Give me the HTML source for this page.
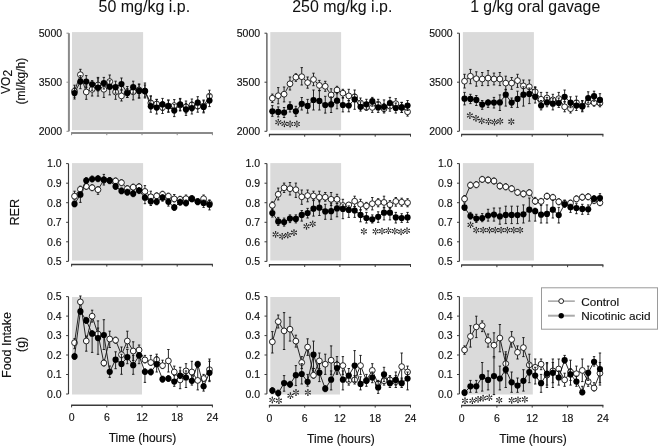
<!DOCTYPE html>
<html><head><meta charset="utf-8"><style>
html,body{margin:0;padding:0;background:#fff;}
svg{display:block;will-change:transform;}
text{font-family:"Liberation Sans",sans-serif;fill:#111;stroke:#111;stroke-width:0.15px;}
.tk{font-size:10.5px;}
.ax{font-size:12px;}
.ti{font-size:16.4px;stroke-width:0.05px;}
.yl{font-size:11.2px;}
.yl2{font-size:12px;}
.lg{font-size:11.75px;}
</style></head><body>
<svg width="658" height="446" viewBox="0 0 658 446">
<rect x="72.0" y="32.1" width="71.1" height="98.1" fill="#dadada"/>
<line x1="68.9" y1="33.2" x2="68.9" y2="131.3" stroke="#8a8a8a" stroke-width="2.0"/>
<line x1="66.5" y1="33.2" x2="68.9" y2="33.2" stroke="#8a8a8a" stroke-width="1"/>
<text x="62.1" y="37.0" text-anchor="end" class="tk">5000</text>
<line x1="66.5" y1="82.2" x2="68.9" y2="82.2" stroke="#8a8a8a" stroke-width="1"/>
<text x="62.1" y="86.0" text-anchor="end" class="tk">3500</text>
<line x1="66.5" y1="131.3" x2="68.9" y2="131.3" stroke="#8a8a8a" stroke-width="1"/>
<text x="62.1" y="135.1" text-anchor="end" class="tk">2000</text>
<line x1="71.1" y1="133.0" x2="212.9" y2="133.0" stroke="#8a8a8a" stroke-width="2.0"/>
<line x1="71.6" y1="133.0" x2="71.6" y2="135.2" stroke="#8a8a8a" stroke-width="1"/>
<line x1="106.8" y1="133.0" x2="106.8" y2="135.2" stroke="#8a8a8a" stroke-width="1"/>
<line x1="142.0" y1="133.0" x2="142.0" y2="135.2" stroke="#8a8a8a" stroke-width="1"/>
<line x1="177.2" y1="133.0" x2="177.2" y2="135.2" stroke="#8a8a8a" stroke-width="1"/>
<line x1="212.4" y1="133.0" x2="212.4" y2="135.2" stroke="#8a8a8a" stroke-width="1"/>
<rect x="270.3" y="32.1" width="70.8" height="98.1" fill="#dadada"/>
<line x1="266.9" y1="33.2" x2="266.9" y2="131.3" stroke="#3a3a3a" stroke-width="1.15"/>
<line x1="264.5" y1="33.2" x2="266.9" y2="33.2" stroke="#3a3a3a" stroke-width="1"/>
<text x="260.1" y="37.0" text-anchor="end" class="tk">5000</text>
<line x1="264.5" y1="82.2" x2="266.9" y2="82.2" stroke="#3a3a3a" stroke-width="1"/>
<text x="260.1" y="86.0" text-anchor="end" class="tk">3500</text>
<line x1="264.5" y1="131.3" x2="266.9" y2="131.3" stroke="#3a3a3a" stroke-width="1"/>
<text x="260.1" y="135.1" text-anchor="end" class="tk">2000</text>
<line x1="268.9" y1="134.5" x2="411.0" y2="134.5" stroke="#3a3a3a" stroke-width="1.5"/>
<line x1="269.4" y1="134.5" x2="269.4" y2="136.7" stroke="#3a3a3a" stroke-width="1"/>
<line x1="304.7" y1="134.5" x2="304.7" y2="136.7" stroke="#3a3a3a" stroke-width="1"/>
<line x1="339.9" y1="134.5" x2="339.9" y2="136.7" stroke="#3a3a3a" stroke-width="1"/>
<line x1="375.2" y1="134.5" x2="375.2" y2="136.7" stroke="#3a3a3a" stroke-width="1"/>
<line x1="410.5" y1="134.5" x2="410.5" y2="136.7" stroke="#3a3a3a" stroke-width="1"/>
<rect x="462.9" y="32.1" width="71.0" height="98.1" fill="#dadada"/>
<line x1="459.4" y1="33.2" x2="459.4" y2="131.3" stroke="#3a3a3a" stroke-width="1.15"/>
<line x1="457.0" y1="33.2" x2="459.4" y2="33.2" stroke="#3a3a3a" stroke-width="1"/>
<text x="452.6" y="37.0" text-anchor="end" class="tk">5000</text>
<line x1="457.0" y1="82.2" x2="459.4" y2="82.2" stroke="#3a3a3a" stroke-width="1"/>
<text x="452.6" y="86.0" text-anchor="end" class="tk">3500</text>
<line x1="457.0" y1="131.3" x2="459.4" y2="131.3" stroke="#3a3a3a" stroke-width="1"/>
<text x="452.6" y="135.1" text-anchor="end" class="tk">2000</text>
<line x1="461.1" y1="134.5" x2="603.4" y2="134.5" stroke="#3a3a3a" stroke-width="1.5"/>
<line x1="461.6" y1="134.5" x2="461.6" y2="136.7" stroke="#3a3a3a" stroke-width="1"/>
<line x1="496.9" y1="134.5" x2="496.9" y2="136.7" stroke="#3a3a3a" stroke-width="1"/>
<line x1="532.2" y1="134.5" x2="532.2" y2="136.7" stroke="#3a3a3a" stroke-width="1"/>
<line x1="567.6" y1="134.5" x2="567.6" y2="136.7" stroke="#3a3a3a" stroke-width="1"/>
<line x1="602.9" y1="134.5" x2="602.9" y2="136.7" stroke="#3a3a3a" stroke-width="1"/>
<rect x="72.0" y="163.1" width="71.1" height="97.4" fill="#dadada"/>
<line x1="68.5" y1="163.6" x2="68.5" y2="261.4" stroke="#3a3a3a" stroke-width="1.15"/>
<line x1="66.1" y1="163.6" x2="68.5" y2="163.6" stroke="#3a3a3a" stroke-width="1"/>
<text x="61.7" y="167.4" text-anchor="end" class="tk">1.0</text>
<line x1="66.1" y1="183.2" x2="68.5" y2="183.2" stroke="#3a3a3a" stroke-width="1"/>
<text x="61.7" y="187.0" text-anchor="end" class="tk">0.9</text>
<line x1="66.1" y1="202.7" x2="68.5" y2="202.7" stroke="#3a3a3a" stroke-width="1"/>
<text x="61.7" y="206.5" text-anchor="end" class="tk">0.8</text>
<line x1="66.1" y1="222.3" x2="68.5" y2="222.3" stroke="#3a3a3a" stroke-width="1"/>
<text x="61.7" y="226.1" text-anchor="end" class="tk">0.7</text>
<line x1="66.1" y1="241.8" x2="68.5" y2="241.8" stroke="#3a3a3a" stroke-width="1"/>
<text x="61.7" y="245.6" text-anchor="end" class="tk">0.6</text>
<line x1="66.1" y1="261.4" x2="68.5" y2="261.4" stroke="#3a3a3a" stroke-width="1"/>
<text x="61.7" y="265.2" text-anchor="end" class="tk">0.5</text>
<line x1="71.1" y1="264.4" x2="212.9" y2="264.4" stroke="#3a3a3a" stroke-width="1.5"/>
<line x1="71.6" y1="264.4" x2="71.6" y2="266.59999999999997" stroke="#3a3a3a" stroke-width="1"/>
<line x1="106.8" y1="264.4" x2="106.8" y2="266.59999999999997" stroke="#3a3a3a" stroke-width="1"/>
<line x1="142.0" y1="264.4" x2="142.0" y2="266.59999999999997" stroke="#3a3a3a" stroke-width="1"/>
<line x1="177.2" y1="264.4" x2="177.2" y2="266.59999999999997" stroke="#3a3a3a" stroke-width="1"/>
<line x1="212.4" y1="264.4" x2="212.4" y2="266.59999999999997" stroke="#3a3a3a" stroke-width="1"/>
<rect x="270.3" y="163.1" width="70.8" height="97.4" fill="#dadada"/>
<line x1="266.9" y1="163.6" x2="266.9" y2="261.4" stroke="#3a3a3a" stroke-width="1.15"/>
<line x1="264.5" y1="163.6" x2="266.9" y2="163.6" stroke="#3a3a3a" stroke-width="1"/>
<text x="260.1" y="167.4" text-anchor="end" class="tk">1.0</text>
<line x1="264.5" y1="183.2" x2="266.9" y2="183.2" stroke="#3a3a3a" stroke-width="1"/>
<text x="260.1" y="187.0" text-anchor="end" class="tk">0.9</text>
<line x1="264.5" y1="202.7" x2="266.9" y2="202.7" stroke="#3a3a3a" stroke-width="1"/>
<text x="260.1" y="206.5" text-anchor="end" class="tk">0.8</text>
<line x1="264.5" y1="222.3" x2="266.9" y2="222.3" stroke="#3a3a3a" stroke-width="1"/>
<text x="260.1" y="226.1" text-anchor="end" class="tk">0.7</text>
<line x1="264.5" y1="241.8" x2="266.9" y2="241.8" stroke="#3a3a3a" stroke-width="1"/>
<text x="260.1" y="245.6" text-anchor="end" class="tk">0.6</text>
<line x1="264.5" y1="261.4" x2="266.9" y2="261.4" stroke="#3a3a3a" stroke-width="1"/>
<text x="260.1" y="265.2" text-anchor="end" class="tk">0.5</text>
<line x1="268.9" y1="264.8" x2="411.0" y2="264.8" stroke="#3a3a3a" stroke-width="1.5"/>
<line x1="269.4" y1="264.8" x2="269.4" y2="267.0" stroke="#3a3a3a" stroke-width="1"/>
<line x1="304.7" y1="264.8" x2="304.7" y2="267.0" stroke="#3a3a3a" stroke-width="1"/>
<line x1="339.9" y1="264.8" x2="339.9" y2="267.0" stroke="#3a3a3a" stroke-width="1"/>
<line x1="375.2" y1="264.8" x2="375.2" y2="267.0" stroke="#3a3a3a" stroke-width="1"/>
<line x1="410.5" y1="264.8" x2="410.5" y2="267.0" stroke="#3a3a3a" stroke-width="1"/>
<rect x="462.9" y="163.1" width="71.0" height="97.4" fill="#dadada"/>
<line x1="459.4" y1="163.6" x2="459.4" y2="261.4" stroke="#3a3a3a" stroke-width="1.15"/>
<line x1="457.0" y1="163.6" x2="459.4" y2="163.6" stroke="#3a3a3a" stroke-width="1"/>
<text x="452.6" y="167.4" text-anchor="end" class="tk">1.0</text>
<line x1="457.0" y1="183.2" x2="459.4" y2="183.2" stroke="#3a3a3a" stroke-width="1"/>
<text x="452.6" y="187.0" text-anchor="end" class="tk">0.9</text>
<line x1="457.0" y1="202.7" x2="459.4" y2="202.7" stroke="#3a3a3a" stroke-width="1"/>
<text x="452.6" y="206.5" text-anchor="end" class="tk">0.8</text>
<line x1="457.0" y1="222.3" x2="459.4" y2="222.3" stroke="#3a3a3a" stroke-width="1"/>
<text x="452.6" y="226.1" text-anchor="end" class="tk">0.7</text>
<line x1="457.0" y1="241.8" x2="459.4" y2="241.8" stroke="#3a3a3a" stroke-width="1"/>
<text x="452.6" y="245.6" text-anchor="end" class="tk">0.6</text>
<line x1="457.0" y1="261.4" x2="459.4" y2="261.4" stroke="#3a3a3a" stroke-width="1"/>
<text x="452.6" y="265.2" text-anchor="end" class="tk">0.5</text>
<line x1="461.1" y1="265.0" x2="603.4" y2="265.0" stroke="#3a3a3a" stroke-width="1.5"/>
<line x1="461.6" y1="265.0" x2="461.6" y2="267.2" stroke="#3a3a3a" stroke-width="1"/>
<line x1="496.9" y1="265.0" x2="496.9" y2="267.2" stroke="#3a3a3a" stroke-width="1"/>
<line x1="532.2" y1="265.0" x2="532.2" y2="267.2" stroke="#3a3a3a" stroke-width="1"/>
<line x1="567.6" y1="265.0" x2="567.6" y2="267.2" stroke="#3a3a3a" stroke-width="1"/>
<line x1="602.9" y1="265.0" x2="602.9" y2="267.2" stroke="#3a3a3a" stroke-width="1"/>
<rect x="72.0" y="297.0" width="70.0" height="97.5" fill="#dadada"/>
<line x1="68.5" y1="296.6" x2="68.5" y2="394.0" stroke="#3a3a3a" stroke-width="1.15"/>
<line x1="66.1" y1="296.6" x2="68.5" y2="296.6" stroke="#3a3a3a" stroke-width="1"/>
<text x="61.7" y="300.4" text-anchor="end" class="tk">0.5</text>
<line x1="66.1" y1="316.1" x2="68.5" y2="316.1" stroke="#3a3a3a" stroke-width="1"/>
<text x="61.7" y="319.9" text-anchor="end" class="tk">0.4</text>
<line x1="66.1" y1="335.6" x2="68.5" y2="335.6" stroke="#3a3a3a" stroke-width="1"/>
<text x="61.7" y="339.4" text-anchor="end" class="tk">0.3</text>
<line x1="66.1" y1="355.0" x2="68.5" y2="355.0" stroke="#3a3a3a" stroke-width="1"/>
<text x="61.7" y="358.8" text-anchor="end" class="tk">0.2</text>
<line x1="66.1" y1="374.5" x2="68.5" y2="374.5" stroke="#3a3a3a" stroke-width="1"/>
<text x="61.7" y="378.3" text-anchor="end" class="tk">0.1</text>
<line x1="66.1" y1="394.0" x2="68.5" y2="394.0" stroke="#3a3a3a" stroke-width="1"/>
<text x="61.7" y="397.8" text-anchor="end" class="tk">0.0</text>
<line x1="71.1" y1="405.2" x2="212.9" y2="405.2" stroke="#3a3a3a" stroke-width="1.5"/>
<line x1="71.6" y1="405.2" x2="71.6" y2="407.4" stroke="#3a3a3a" stroke-width="1"/>
<text x="71.6" y="421.4" text-anchor="middle" class="tk">0</text>
<line x1="106.8" y1="405.2" x2="106.8" y2="407.4" stroke="#3a3a3a" stroke-width="1"/>
<text x="106.8" y="421.4" text-anchor="middle" class="tk">6</text>
<line x1="142.0" y1="405.2" x2="142.0" y2="407.4" stroke="#3a3a3a" stroke-width="1"/>
<text x="142.0" y="421.4" text-anchor="middle" class="tk">12</text>
<line x1="177.2" y1="405.2" x2="177.2" y2="407.4" stroke="#3a3a3a" stroke-width="1"/>
<text x="177.2" y="421.4" text-anchor="middle" class="tk">18</text>
<line x1="212.4" y1="405.2" x2="212.4" y2="407.4" stroke="#3a3a3a" stroke-width="1"/>
<text x="212.4" y="421.4" text-anchor="middle" class="tk">24</text>
<text x="142.5" y="442.4" text-anchor="middle" class="ax">Time (hours)</text>
<rect x="270.3" y="297.0" width="69.7" height="97.5" fill="#dadada"/>
<line x1="266.9" y1="296.6" x2="266.9" y2="394.0" stroke="#3a3a3a" stroke-width="1.15"/>
<line x1="264.5" y1="296.6" x2="266.9" y2="296.6" stroke="#3a3a3a" stroke-width="1"/>
<text x="260.1" y="300.4" text-anchor="end" class="tk">0.5</text>
<line x1="264.5" y1="316.1" x2="266.9" y2="316.1" stroke="#3a3a3a" stroke-width="1"/>
<text x="260.1" y="319.9" text-anchor="end" class="tk">0.4</text>
<line x1="264.5" y1="335.6" x2="266.9" y2="335.6" stroke="#3a3a3a" stroke-width="1"/>
<text x="260.1" y="339.4" text-anchor="end" class="tk">0.3</text>
<line x1="264.5" y1="355.0" x2="266.9" y2="355.0" stroke="#3a3a3a" stroke-width="1"/>
<text x="260.1" y="358.8" text-anchor="end" class="tk">0.2</text>
<line x1="264.5" y1="374.5" x2="266.9" y2="374.5" stroke="#3a3a3a" stroke-width="1"/>
<text x="260.1" y="378.3" text-anchor="end" class="tk">0.1</text>
<line x1="264.5" y1="394.0" x2="266.9" y2="394.0" stroke="#3a3a3a" stroke-width="1"/>
<text x="260.1" y="397.8" text-anchor="end" class="tk">0.0</text>
<line x1="268.9" y1="405.4" x2="411.0" y2="405.4" stroke="#3a3a3a" stroke-width="1.5"/>
<line x1="269.4" y1="405.4" x2="269.4" y2="407.59999999999997" stroke="#3a3a3a" stroke-width="1"/>
<text x="269.4" y="421.6" text-anchor="middle" class="tk">0</text>
<line x1="304.7" y1="405.4" x2="304.7" y2="407.59999999999997" stroke="#3a3a3a" stroke-width="1"/>
<text x="304.7" y="421.6" text-anchor="middle" class="tk">6</text>
<line x1="339.9" y1="405.4" x2="339.9" y2="407.59999999999997" stroke="#3a3a3a" stroke-width="1"/>
<text x="339.9" y="421.6" text-anchor="middle" class="tk">12</text>
<line x1="375.2" y1="405.4" x2="375.2" y2="407.59999999999997" stroke="#3a3a3a" stroke-width="1"/>
<text x="375.2" y="421.6" text-anchor="middle" class="tk">18</text>
<line x1="410.5" y1="405.4" x2="410.5" y2="407.59999999999997" stroke="#3a3a3a" stroke-width="1"/>
<text x="410.5" y="421.6" text-anchor="middle" class="tk">24</text>
<text x="340.9" y="443.1" text-anchor="middle" class="ax">Time (hours)</text>
<rect x="462.9" y="297.0" width="69.9" height="97.5" fill="#dadada"/>
<line x1="459.4" y1="296.6" x2="459.4" y2="394.0" stroke="#3a3a3a" stroke-width="1.15"/>
<line x1="457.0" y1="296.6" x2="459.4" y2="296.6" stroke="#3a3a3a" stroke-width="1"/>
<text x="452.6" y="300.4" text-anchor="end" class="tk">0.5</text>
<line x1="457.0" y1="316.1" x2="459.4" y2="316.1" stroke="#3a3a3a" stroke-width="1"/>
<text x="452.6" y="319.9" text-anchor="end" class="tk">0.4</text>
<line x1="457.0" y1="335.6" x2="459.4" y2="335.6" stroke="#3a3a3a" stroke-width="1"/>
<text x="452.6" y="339.4" text-anchor="end" class="tk">0.3</text>
<line x1="457.0" y1="355.0" x2="459.4" y2="355.0" stroke="#3a3a3a" stroke-width="1"/>
<text x="452.6" y="358.8" text-anchor="end" class="tk">0.2</text>
<line x1="457.0" y1="374.5" x2="459.4" y2="374.5" stroke="#3a3a3a" stroke-width="1"/>
<text x="452.6" y="378.3" text-anchor="end" class="tk">0.1</text>
<line x1="457.0" y1="394.0" x2="459.4" y2="394.0" stroke="#3a3a3a" stroke-width="1"/>
<text x="452.6" y="397.8" text-anchor="end" class="tk">0.0</text>
<line x1="461.1" y1="405.4" x2="603.4" y2="405.4" stroke="#3a3a3a" stroke-width="1.5"/>
<line x1="461.6" y1="405.4" x2="461.6" y2="407.59999999999997" stroke="#3a3a3a" stroke-width="1"/>
<text x="461.6" y="421.6" text-anchor="middle" class="tk">0</text>
<line x1="496.9" y1="405.4" x2="496.9" y2="407.59999999999997" stroke="#3a3a3a" stroke-width="1"/>
<text x="496.9" y="421.6" text-anchor="middle" class="tk">6</text>
<line x1="532.2" y1="405.4" x2="532.2" y2="407.59999999999997" stroke="#3a3a3a" stroke-width="1"/>
<text x="532.2" y="421.6" text-anchor="middle" class="tk">12</text>
<line x1="567.6" y1="405.4" x2="567.6" y2="407.59999999999997" stroke="#3a3a3a" stroke-width="1"/>
<text x="567.6" y="421.6" text-anchor="middle" class="tk">18</text>
<line x1="602.9" y1="405.4" x2="602.9" y2="407.59999999999997" stroke="#3a3a3a" stroke-width="1"/>
<text x="602.9" y="421.6" text-anchor="middle" class="tk">24</text>
<text x="533.1" y="443.2" text-anchor="middle" class="ax">Time (hours)</text>
<text x="98.6" y="11.55" class="ti" textLength="91.5" lengthAdjust="spacingAndGlyphs">50 mg/kg i.p.</text>
<text x="292.2" y="11.55" class="ti" textLength="100.2" lengthAdjust="spacingAndGlyphs">250 mg/kg i.p.</text>
<text x="470.2" y="11.55" class="ti" textLength="130" lengthAdjust="spacingAndGlyphs">1 g/kg oral gavage</text>
<text transform="translate(9.5,81.9) rotate(-90)" text-anchor="middle" class="yl2">VO<tspan dy="2.2">2</tspan></text>
<text transform="translate(24.8,81.2) rotate(-90)" text-anchor="middle" class="yl2">(ml/kg/h)</text>
<text transform="translate(18.8,212.2) rotate(-90)" text-anchor="middle" class="yl2" style="font-size:12.7px">RER</text>
<text transform="translate(11.2,345) rotate(-90)" text-anchor="middle" class="yl2" style="font-size:12.5px">Food Intake</text>
<text transform="translate(25.3,344.4) rotate(-90)" text-anchor="middle" class="yl2" style="font-size:12.4px">(g)</text>
<rect x="541.5" y="287.8" width="116" height="41.4" fill="#fff" stroke="#9a9a9a" stroke-width="1"/>
<line x1="548" y1="301.1" x2="574.8" y2="301.1" stroke="#666" stroke-width="0.9"/>
<circle cx="561.2" cy="301.1" r="2.4" fill="#fff" stroke="#222" stroke-width="1"/>
<text x="581.3" y="305.6" class="lg">Control</text>
<line x1="548" y1="315.7" x2="574.8" y2="315.7" stroke="#aaa" stroke-width="2"/>
<circle cx="561.2" cy="315.7" r="2.7" fill="#000"/>
<text x="581.3" y="319.9" class="lg">Nicotinic acid</text>
<path d="M74.53 85.20V97.20M73.33 85.20h2.4M73.33 97.20h2.4M80.40 69.30V80.70M79.20 69.30h2.4M79.20 80.70h2.4M86.27 86.00V99.30M85.07 86.00h2.4M85.07 99.30h2.4M92.13 83.30V96.00M90.93 83.30h2.4M90.93 96.00h2.4M98.00 78.00V91.00M96.80 78.00h2.4M96.80 91.00h2.4M103.87 83.30V97.40M102.67 83.30h2.4M102.67 97.40h2.4M109.73 75.00V87.60M108.53 75.00h2.4M108.53 87.60h2.4M115.60 86.00V99.30M114.40 86.00h2.4M114.40 99.30h2.4M121.47 89.90V101.00M120.27 89.90h2.4M120.27 101.00h2.4M127.33 86.50V97.40M126.13 86.50h2.4M126.13 97.40h2.4M133.20 85.80V99.90M132.00 85.80h2.4M132.00 99.90h2.4M139.07 84.00V98.00M137.87 84.00h2.4M137.87 98.00h2.4M144.93 85.00V97.00M143.73 85.00h2.4M143.73 97.00h2.4M150.80 96.00V109.00M149.60 96.00h2.4M149.60 109.00h2.4M156.67 99.40V110.00M155.47 99.40h2.4M155.47 110.00h2.4M162.53 101.50V113.50M161.33 101.50h2.4M161.33 113.50h2.4M168.40 100.00V112.00M167.20 100.00h2.4M167.20 112.00h2.4M174.27 99.60V111.60M173.07 99.60h2.4M173.07 111.60h2.4M180.13 99.00V111.00M178.93 99.00h2.4M178.93 111.00h2.4M186.00 101.00V113.00M184.80 101.00h2.4M184.80 113.00h2.4M191.87 99.00V111.00M190.67 99.00h2.4M190.67 111.00h2.4M197.73 100.20V112.20M196.53 100.20h2.4M196.53 112.20h2.4M203.60 100.00V112.00M202.40 100.00h2.4M202.40 112.00h2.4M209.47 90.20V102.20M208.27 90.20h2.4M208.27 102.20h2.4" stroke="#111" stroke-width="0.9" fill="none"/>
<path d="M74.53 91.20L80.40 74.70L86.27 92.00L92.13 89.30L98.00 85.00L103.87 89.30L109.73 81.60L115.60 92.00L121.47 95.90L127.33 92.50L133.20 91.80L139.07 90.00L144.93 91.00L150.80 103.00L156.67 104.00L162.53 107.50L168.40 106.00L174.27 105.60L180.13 105.00L186.00 107.00L191.87 105.00L197.73 106.20L203.60 106.00L209.47 96.20" stroke="#111" stroke-width="0.9" fill="none"/>
<circle cx="74.53" cy="91.20" r="2.9" fill="#fff" stroke="#111" stroke-width="0.9"/>
<circle cx="80.40" cy="74.70" r="2.9" fill="#fff" stroke="#111" stroke-width="0.9"/>
<circle cx="86.27" cy="92.00" r="2.9" fill="#fff" stroke="#111" stroke-width="0.9"/>
<circle cx="92.13" cy="89.30" r="2.9" fill="#fff" stroke="#111" stroke-width="0.9"/>
<circle cx="98.00" cy="85.00" r="2.9" fill="#fff" stroke="#111" stroke-width="0.9"/>
<circle cx="103.87" cy="89.30" r="2.9" fill="#fff" stroke="#111" stroke-width="0.9"/>
<circle cx="109.73" cy="81.60" r="2.9" fill="#fff" stroke="#111" stroke-width="0.9"/>
<circle cx="115.60" cy="92.00" r="2.9" fill="#fff" stroke="#111" stroke-width="0.9"/>
<circle cx="121.47" cy="95.90" r="2.9" fill="#fff" stroke="#111" stroke-width="0.9"/>
<circle cx="127.33" cy="92.50" r="2.9" fill="#fff" stroke="#111" stroke-width="0.9"/>
<circle cx="133.20" cy="91.80" r="2.9" fill="#fff" stroke="#111" stroke-width="0.9"/>
<circle cx="139.07" cy="90.00" r="2.9" fill="#fff" stroke="#111" stroke-width="0.9"/>
<circle cx="144.93" cy="91.00" r="2.9" fill="#fff" stroke="#111" stroke-width="0.9"/>
<circle cx="150.80" cy="103.00" r="2.9" fill="#fff" stroke="#111" stroke-width="0.9"/>
<circle cx="156.67" cy="104.00" r="2.9" fill="#fff" stroke="#111" stroke-width="0.9"/>
<circle cx="162.53" cy="107.50" r="2.9" fill="#fff" stroke="#111" stroke-width="0.9"/>
<circle cx="168.40" cy="106.00" r="2.9" fill="#fff" stroke="#111" stroke-width="0.9"/>
<circle cx="174.27" cy="105.60" r="2.9" fill="#fff" stroke="#111" stroke-width="0.9"/>
<circle cx="180.13" cy="105.00" r="2.9" fill="#fff" stroke="#111" stroke-width="0.9"/>
<circle cx="186.00" cy="107.00" r="2.9" fill="#fff" stroke="#111" stroke-width="0.9"/>
<circle cx="191.87" cy="105.00" r="2.9" fill="#fff" stroke="#111" stroke-width="0.9"/>
<circle cx="197.73" cy="106.20" r="2.9" fill="#fff" stroke="#111" stroke-width="0.9"/>
<circle cx="203.60" cy="106.00" r="2.9" fill="#fff" stroke="#111" stroke-width="0.9"/>
<circle cx="209.47" cy="96.20" r="2.9" fill="#fff" stroke="#111" stroke-width="0.9"/>
<path d="M74.53 88.00V99.00M73.33 88.00h2.4M73.33 99.00h2.4M80.40 75.60V88.70M79.20 75.60h2.4M79.20 88.70h2.4M86.27 75.60V87.60M85.07 75.60h2.4M85.07 87.60h2.4M92.13 80.60V90.30M90.93 80.60h2.4M90.93 90.30h2.4M98.00 77.40V96.10M96.80 77.40h2.4M96.80 96.10h2.4M103.87 77.40V89.00M102.67 77.40h2.4M102.67 89.00h2.4M109.73 80.80V94.90M108.53 80.80h2.4M108.53 94.90h2.4M115.60 81.20V93.20M114.40 81.20h2.4M114.40 93.20h2.4M121.47 78.00V90.00M120.27 78.00h2.4M120.27 90.00h2.4M127.33 88.70V97.40M126.13 88.70h2.4M126.13 97.40h2.4M133.20 81.20V93.20M132.00 81.20h2.4M132.00 93.20h2.4M139.07 84.30V98.00M137.87 84.30h2.4M137.87 98.00h2.4M144.93 83.00V98.00M143.73 83.00h2.4M143.73 98.00h2.4M150.80 96.00V112.20M149.60 96.00h2.4M149.60 112.20h2.4M156.67 99.40V114.00M155.47 99.40h2.4M155.47 114.00h2.4M162.53 98.40V110.40M161.33 98.40h2.4M161.33 110.40h2.4M168.40 100.20V112.20M167.20 100.20h2.4M167.20 112.20h2.4M174.27 104.60V116.60M173.07 104.60h2.4M173.07 116.60h2.4M180.13 98.40V110.40M178.93 98.40h2.4M178.93 110.40h2.4M186.00 103.40V115.40M184.80 103.40h2.4M184.80 115.40h2.4M191.87 102.00V114.00M190.67 102.00h2.4M190.67 114.00h2.4M197.73 96.70V108.70M196.53 96.70h2.4M196.53 108.70h2.4M203.60 100.90V112.90M202.40 100.90h2.4M202.40 112.90h2.4M209.47 94.60V106.60M208.27 94.60h2.4M208.27 106.60h2.4" stroke="#111" stroke-width="0.9" fill="none"/>
<path d="M74.53 93.00L80.40 81.60L86.27 81.60L92.13 84.30L98.00 87.70L103.87 83.00L109.73 86.80L115.60 87.20L121.47 84.00L127.33 93.00L133.20 87.20L139.07 90.90L144.93 91.20L150.80 106.20L156.67 107.50L162.53 104.40L168.40 106.20L174.27 110.60L180.13 104.40L186.00 109.40L191.87 108.00L197.73 102.70L203.60 106.90L209.47 100.60" stroke="#111" stroke-width="0.9" fill="none"/>
<circle cx="74.53" cy="93.00" r="3.1" fill="#000"/>
<circle cx="80.40" cy="81.60" r="3.1" fill="#000"/>
<circle cx="86.27" cy="81.60" r="3.1" fill="#000"/>
<circle cx="92.13" cy="84.30" r="3.1" fill="#000"/>
<circle cx="98.00" cy="87.70" r="3.1" fill="#000"/>
<circle cx="103.87" cy="83.00" r="3.1" fill="#000"/>
<circle cx="109.73" cy="86.80" r="3.1" fill="#000"/>
<circle cx="115.60" cy="87.20" r="3.1" fill="#000"/>
<circle cx="121.47" cy="84.00" r="3.1" fill="#000"/>
<circle cx="127.33" cy="93.00" r="3.1" fill="#000"/>
<circle cx="133.20" cy="87.20" r="3.1" fill="#000"/>
<circle cx="139.07" cy="90.90" r="3.1" fill="#000"/>
<circle cx="144.93" cy="91.20" r="3.1" fill="#000"/>
<circle cx="150.80" cy="106.20" r="3.1" fill="#000"/>
<circle cx="156.67" cy="107.50" r="3.1" fill="#000"/>
<circle cx="162.53" cy="104.40" r="3.1" fill="#000"/>
<circle cx="168.40" cy="106.20" r="3.1" fill="#000"/>
<circle cx="174.27" cy="110.60" r="3.1" fill="#000"/>
<circle cx="180.13" cy="104.40" r="3.1" fill="#000"/>
<circle cx="186.00" cy="109.40" r="3.1" fill="#000"/>
<circle cx="191.87" cy="108.00" r="3.1" fill="#000"/>
<circle cx="197.73" cy="102.70" r="3.1" fill="#000"/>
<circle cx="203.60" cy="106.90" r="3.1" fill="#000"/>
<circle cx="209.47" cy="100.60" r="3.1" fill="#000"/>
<path d="M272.34 94.10V102.50M271.14 94.10h2.4M271.14 102.50h2.4M278.22 87.60V103.80M277.02 87.60h2.4M277.02 103.80h2.4M284.10 87.00V101.90M282.90 87.00h2.4M282.90 101.90h2.4M289.98 77.00V90.00M288.78 77.00h2.4M288.78 90.00h2.4M295.86 73.80V81.30M294.66 73.80h2.4M294.66 81.30h2.4M301.74 67.60V85.00M300.54 67.60h2.4M300.54 85.00h2.4M307.61 77.00V88.20M306.41 77.00h2.4M306.41 88.20h2.4M313.49 73.20V85.70M312.29 73.20h2.4M312.29 85.70h2.4M319.37 80.40V90.40M318.17 80.40h2.4M318.17 90.40h2.4M325.25 81.30V91.30M324.05 81.30h2.4M324.05 91.30h2.4M331.13 88.80V101.30M329.93 88.80h2.4M329.93 101.30h2.4M337.01 86.30V93.80M335.81 86.30h2.4M335.81 93.80h2.4M342.89 89.30V98.20M341.69 89.30h2.4M341.69 98.20h2.4M348.77 89.30V100.90M347.57 89.30h2.4M347.57 100.90h2.4M354.65 90.00V101.80M353.45 90.00h2.4M353.45 101.80h2.4M360.53 98.00V108.00M359.33 98.00h2.4M359.33 108.00h2.4M366.41 102.40V110.50M365.21 102.40h2.4M365.21 110.50h2.4M372.29 102.40V112.40M371.09 102.40h2.4M371.09 112.40h2.4M378.16 99.30V109.30M376.96 99.30h2.4M376.96 109.30h2.4M384.04 103.70V113.00M382.84 103.70h2.4M382.84 113.00h2.4M389.92 101.20V111.20M388.72 101.20h2.4M388.72 111.20h2.4M395.80 98.70V108.70M394.60 98.70h2.4M394.60 108.70h2.4M401.68 102.40V112.40M400.48 102.40h2.4M400.48 112.40h2.4M407.56 106.80V116.10M406.36 106.80h2.4M406.36 116.10h2.4" stroke="#111" stroke-width="0.9" fill="none"/>
<path d="M272.34 98.20L278.22 95.70L284.10 94.20L289.98 83.80L295.86 77.20L301.74 76.70L307.61 82.60L313.49 79.50L319.37 85.40L325.25 86.30L331.13 95.00L337.01 90.00L342.89 93.20L348.77 95.90L354.65 96.80L360.53 103.00L366.41 107.40L372.29 107.40L378.16 104.30L384.04 108.70L389.92 106.20L395.80 103.70L401.68 107.40L407.56 111.80" stroke="#111" stroke-width="0.9" fill="none"/>
<circle cx="272.34" cy="98.20" r="2.9" fill="#fff" stroke="#111" stroke-width="0.9"/>
<circle cx="278.22" cy="95.70" r="2.9" fill="#fff" stroke="#111" stroke-width="0.9"/>
<circle cx="284.10" cy="94.20" r="2.9" fill="#fff" stroke="#111" stroke-width="0.9"/>
<circle cx="289.98" cy="83.80" r="2.9" fill="#fff" stroke="#111" stroke-width="0.9"/>
<circle cx="295.86" cy="77.20" r="2.9" fill="#fff" stroke="#111" stroke-width="0.9"/>
<circle cx="301.74" cy="76.70" r="2.9" fill="#fff" stroke="#111" stroke-width="0.9"/>
<circle cx="307.61" cy="82.60" r="2.9" fill="#fff" stroke="#111" stroke-width="0.9"/>
<circle cx="313.49" cy="79.50" r="2.9" fill="#fff" stroke="#111" stroke-width="0.9"/>
<circle cx="319.37" cy="85.40" r="2.9" fill="#fff" stroke="#111" stroke-width="0.9"/>
<circle cx="325.25" cy="86.30" r="2.9" fill="#fff" stroke="#111" stroke-width="0.9"/>
<circle cx="331.13" cy="95.00" r="2.9" fill="#fff" stroke="#111" stroke-width="0.9"/>
<circle cx="337.01" cy="90.00" r="2.9" fill="#fff" stroke="#111" stroke-width="0.9"/>
<circle cx="342.89" cy="93.20" r="2.9" fill="#fff" stroke="#111" stroke-width="0.9"/>
<circle cx="348.77" cy="95.90" r="2.9" fill="#fff" stroke="#111" stroke-width="0.9"/>
<circle cx="354.65" cy="96.80" r="2.9" fill="#fff" stroke="#111" stroke-width="0.9"/>
<circle cx="360.53" cy="103.00" r="2.9" fill="#fff" stroke="#111" stroke-width="0.9"/>
<circle cx="366.41" cy="107.40" r="2.9" fill="#fff" stroke="#111" stroke-width="0.9"/>
<circle cx="372.29" cy="107.40" r="2.9" fill="#fff" stroke="#111" stroke-width="0.9"/>
<circle cx="378.16" cy="104.30" r="2.9" fill="#fff" stroke="#111" stroke-width="0.9"/>
<circle cx="384.04" cy="108.70" r="2.9" fill="#fff" stroke="#111" stroke-width="0.9"/>
<circle cx="389.92" cy="106.20" r="2.9" fill="#fff" stroke="#111" stroke-width="0.9"/>
<circle cx="395.80" cy="103.70" r="2.9" fill="#fff" stroke="#111" stroke-width="0.9"/>
<circle cx="401.68" cy="107.40" r="2.9" fill="#fff" stroke="#111" stroke-width="0.9"/>
<circle cx="407.56" cy="111.80" r="2.9" fill="#fff" stroke="#111" stroke-width="0.9"/>
<path d="M272.34 105.60V116.30M271.14 105.60h2.4M271.14 116.30h2.4M278.22 106.90V116.90M277.02 106.90h2.4M277.02 116.90h2.4M284.10 107.50V117.50M282.90 107.50h2.4M282.90 117.50h2.4M289.98 101.90V112.00M288.78 101.90h2.4M288.78 112.00h2.4M295.86 106.30V116.30M294.66 106.30h2.4M294.66 116.30h2.4M301.74 97.50V110.00M300.54 97.50h2.4M300.54 110.00h2.4M307.61 99.40V113.10M306.41 99.40h2.4M306.41 113.10h2.4M313.49 90.00V110.00M312.29 90.00h2.4M312.29 110.00h2.4M319.37 90.70V110.00M318.17 90.70h2.4M318.17 110.00h2.4M325.25 96.30V113.10M324.05 96.30h2.4M324.05 113.10h2.4M331.13 96.90V112.50M329.93 96.90h2.4M329.93 112.50h2.4M337.01 92.50V108.80M335.81 92.50h2.4M335.81 108.80h2.4M342.89 97.50V111.90M341.69 97.50h2.4M341.69 111.90h2.4M348.77 100.50V111.80M347.57 100.50h2.4M347.57 111.80h2.4M354.65 94.30V109.30M353.45 94.30h2.4M353.45 109.30h2.4M360.53 101.80V111.10M359.33 101.80h2.4M359.33 111.10h2.4M366.41 99.30V109.30M365.21 99.30h2.4M365.21 109.30h2.4M372.29 97.40V106.20M371.09 97.40h2.4M371.09 106.20h2.4M378.16 102.40V112.40M376.96 102.40h2.4M376.96 112.40h2.4M384.04 99.90V111.80M382.84 99.90h2.4M382.84 111.80h2.4M389.92 97.40V108.00M388.72 97.40h2.4M388.72 108.00h2.4M395.80 103.00V113.00M394.60 103.00h2.4M394.60 113.00h2.4M401.68 102.40V112.40M400.48 102.40h2.4M400.48 112.40h2.4M407.56 100.50V110.50M406.36 100.50h2.4M406.36 110.50h2.4" stroke="#111" stroke-width="0.9" fill="none"/>
<path d="M272.34 111.30L278.22 111.90L284.10 112.50L289.98 106.90L295.86 111.30L301.74 103.80L307.61 105.90L313.49 100.00L319.37 100.90L325.25 105.00L331.13 104.40L337.01 100.70L342.89 105.00L348.77 105.50L354.65 99.30L360.53 106.80L366.41 104.30L372.29 101.20L378.16 107.40L384.04 106.80L389.92 103.00L395.80 108.00L401.68 107.40L407.56 105.50" stroke="#111" stroke-width="0.9" fill="none"/>
<circle cx="272.34" cy="111.30" r="3.1" fill="#000"/>
<circle cx="278.22" cy="111.90" r="3.1" fill="#000"/>
<circle cx="284.10" cy="112.50" r="3.1" fill="#000"/>
<circle cx="289.98" cy="106.90" r="3.1" fill="#000"/>
<circle cx="295.86" cy="111.30" r="3.1" fill="#000"/>
<circle cx="301.74" cy="103.80" r="3.1" fill="#000"/>
<circle cx="307.61" cy="105.90" r="3.1" fill="#000"/>
<circle cx="313.49" cy="100.00" r="3.1" fill="#000"/>
<circle cx="319.37" cy="100.90" r="3.1" fill="#000"/>
<circle cx="325.25" cy="105.00" r="3.1" fill="#000"/>
<circle cx="331.13" cy="104.40" r="3.1" fill="#000"/>
<circle cx="337.01" cy="100.70" r="3.1" fill="#000"/>
<circle cx="342.89" cy="105.00" r="3.1" fill="#000"/>
<circle cx="348.77" cy="105.50" r="3.1" fill="#000"/>
<circle cx="354.65" cy="99.30" r="3.1" fill="#000"/>
<circle cx="360.53" cy="106.80" r="3.1" fill="#000"/>
<circle cx="366.41" cy="104.30" r="3.1" fill="#000"/>
<circle cx="372.29" cy="101.20" r="3.1" fill="#000"/>
<circle cx="378.16" cy="107.40" r="3.1" fill="#000"/>
<circle cx="384.04" cy="106.80" r="3.1" fill="#000"/>
<circle cx="389.92" cy="103.00" r="3.1" fill="#000"/>
<circle cx="395.80" cy="108.00" r="3.1" fill="#000"/>
<circle cx="401.68" cy="107.40" r="3.1" fill="#000"/>
<circle cx="407.56" cy="105.50" r="3.1" fill="#000"/>
<path d="M278.30 121.60L278.30 119.45M278.30 122.80L278.30 124.95M278.82 121.90L280.68 120.82M277.78 121.90L275.92 120.82M277.78 122.50L275.92 123.57M278.82 122.50L280.68 123.57" stroke="#1a1a1a" stroke-width="0.95" opacity="0.9" fill="none"/><circle cx="278.30" cy="119.50" r="0.72" fill="#1a1a1a"/><circle cx="278.30" cy="124.90" r="0.72" fill="#1a1a1a"/><circle cx="280.64" cy="120.85" r="0.72" fill="#1a1a1a"/><circle cx="275.96" cy="120.85" r="0.72" fill="#1a1a1a"/><circle cx="275.96" cy="123.55" r="0.72" fill="#1a1a1a"/><circle cx="280.64" cy="123.55" r="0.72" fill="#1a1a1a"/>
<path d="M284.40 123.20L284.40 121.05M284.40 124.40L284.40 126.55M284.92 123.50L286.78 122.42M283.88 123.50L282.02 122.42M283.88 124.10L282.02 125.17M284.92 124.10L286.78 125.17" stroke="#1a1a1a" stroke-width="0.95" opacity="0.9" fill="none"/><circle cx="284.40" cy="121.10" r="0.72" fill="#1a1a1a"/><circle cx="284.40" cy="126.50" r="0.72" fill="#1a1a1a"/><circle cx="286.74" cy="122.45" r="0.72" fill="#1a1a1a"/><circle cx="282.06" cy="122.45" r="0.72" fill="#1a1a1a"/><circle cx="282.06" cy="125.15" r="0.72" fill="#1a1a1a"/><circle cx="286.74" cy="125.15" r="0.72" fill="#1a1a1a"/>
<path d="M290.10 123.40L290.10 121.25M290.10 124.60L290.10 126.75M290.62 123.70L292.48 122.62M289.58 123.70L287.72 122.62M289.58 124.30L287.72 125.38M290.62 124.30L292.48 125.38" stroke="#1a1a1a" stroke-width="0.95" opacity="0.9" fill="none"/><circle cx="290.10" cy="121.30" r="0.72" fill="#1a1a1a"/><circle cx="290.10" cy="126.70" r="0.72" fill="#1a1a1a"/><circle cx="292.44" cy="122.65" r="0.72" fill="#1a1a1a"/><circle cx="287.76" cy="122.65" r="0.72" fill="#1a1a1a"/><circle cx="287.76" cy="125.35" r="0.72" fill="#1a1a1a"/><circle cx="292.44" cy="125.35" r="0.72" fill="#1a1a1a"/>
<path d="M296.90 123.40L296.90 121.25M296.90 124.60L296.90 126.75M297.42 123.70L299.28 122.62M296.38 123.70L294.52 122.62M296.38 124.30L294.52 125.38M297.42 124.30L299.28 125.38" stroke="#1a1a1a" stroke-width="0.95" opacity="0.9" fill="none"/><circle cx="296.90" cy="121.30" r="0.72" fill="#1a1a1a"/><circle cx="296.90" cy="126.70" r="0.72" fill="#1a1a1a"/><circle cx="299.24" cy="122.65" r="0.72" fill="#1a1a1a"/><circle cx="294.56" cy="122.65" r="0.72" fill="#1a1a1a"/><circle cx="294.56" cy="125.35" r="0.72" fill="#1a1a1a"/><circle cx="299.24" cy="125.35" r="0.72" fill="#1a1a1a"/>
<path d="M464.54 74.30V88.00M463.34 74.30h2.4M463.34 88.00h2.4M470.43 69.40V83.70M469.23 69.40h2.4M469.23 83.70h2.4M476.32 71.80V86.20M475.12 71.80h2.4M475.12 86.20h2.4M482.21 72.50V85.60M481.01 72.50h2.4M481.01 85.60h2.4M488.09 70.60V85.60M486.89 70.60h2.4M486.89 85.60h2.4M493.98 73.10V84.90M492.78 73.10h2.4M492.78 84.90h2.4M499.87 72.50V85.60M498.67 72.50h2.4M498.67 85.60h2.4M505.76 76.20V89.90M504.56 76.20h2.4M504.56 89.90h2.4M511.64 77.50V89.30M510.44 77.50h2.4M510.44 89.30h2.4M517.53 74.30V87.40M516.33 74.30h2.4M516.33 87.40h2.4M523.42 80.00V92.40M522.22 80.00h2.4M522.22 92.40h2.4M529.31 80.00V93.00M528.11 80.00h2.4M528.11 93.00h2.4M535.19 86.80V96.80M533.99 86.80h2.4M533.99 96.80h2.4M541.08 92.40V104.30M539.88 92.40h2.4M539.88 104.30h2.4M546.97 92.40V103.00M545.77 92.40h2.4M545.77 103.00h2.4M552.86 94.30V104.90M551.66 94.30h2.4M551.66 104.90h2.4M558.74 92.40V103.70M557.54 92.40h2.4M557.54 103.70h2.4M564.63 101.80V111.80M563.43 101.80h2.4M563.43 111.80h2.4M570.52 103.70V113.00M569.32 103.70h2.4M569.32 113.00h2.4M576.41 96.20V107.70M575.21 96.20h2.4M575.21 107.70h2.4M582.29 101.00V111.00M581.09 101.00h2.4M581.09 111.00h2.4M588.18 96.80V106.80M586.98 96.80h2.4M586.98 106.80h2.4M594.07 97.70V106.20M592.87 97.70h2.4M592.87 106.20h2.4M599.96 98.00V106.80M598.76 98.00h2.4M598.76 106.80h2.4" stroke="#111" stroke-width="0.9" fill="none"/>
<path d="M464.54 81.20L470.43 76.20L476.32 78.70L482.21 79.00L488.09 78.10L493.98 79.00L499.87 79.00L505.76 83.10L511.64 83.10L517.53 80.60L523.42 85.90L529.31 86.80L535.19 91.80L541.08 99.30L546.97 98.00L552.86 99.90L558.74 98.70L564.63 106.80L570.52 108.70L576.41 102.70L582.29 106.00L588.18 101.80L594.07 102.70L599.96 103.00" stroke="#111" stroke-width="0.9" fill="none"/>
<circle cx="464.54" cy="81.20" r="2.9" fill="#fff" stroke="#111" stroke-width="0.9"/>
<circle cx="470.43" cy="76.20" r="2.9" fill="#fff" stroke="#111" stroke-width="0.9"/>
<circle cx="476.32" cy="78.70" r="2.9" fill="#fff" stroke="#111" stroke-width="0.9"/>
<circle cx="482.21" cy="79.00" r="2.9" fill="#fff" stroke="#111" stroke-width="0.9"/>
<circle cx="488.09" cy="78.10" r="2.9" fill="#fff" stroke="#111" stroke-width="0.9"/>
<circle cx="493.98" cy="79.00" r="2.9" fill="#fff" stroke="#111" stroke-width="0.9"/>
<circle cx="499.87" cy="79.00" r="2.9" fill="#fff" stroke="#111" stroke-width="0.9"/>
<circle cx="505.76" cy="83.10" r="2.9" fill="#fff" stroke="#111" stroke-width="0.9"/>
<circle cx="511.64" cy="83.10" r="2.9" fill="#fff" stroke="#111" stroke-width="0.9"/>
<circle cx="517.53" cy="80.60" r="2.9" fill="#fff" stroke="#111" stroke-width="0.9"/>
<circle cx="523.42" cy="85.90" r="2.9" fill="#fff" stroke="#111" stroke-width="0.9"/>
<circle cx="529.31" cy="86.80" r="2.9" fill="#fff" stroke="#111" stroke-width="0.9"/>
<circle cx="535.19" cy="91.80" r="2.9" fill="#fff" stroke="#111" stroke-width="0.9"/>
<circle cx="541.08" cy="99.30" r="2.9" fill="#fff" stroke="#111" stroke-width="0.9"/>
<circle cx="546.97" cy="98.00" r="2.9" fill="#fff" stroke="#111" stroke-width="0.9"/>
<circle cx="552.86" cy="99.90" r="2.9" fill="#fff" stroke="#111" stroke-width="0.9"/>
<circle cx="558.74" cy="98.70" r="2.9" fill="#fff" stroke="#111" stroke-width="0.9"/>
<circle cx="564.63" cy="106.80" r="2.9" fill="#fff" stroke="#111" stroke-width="0.9"/>
<circle cx="570.52" cy="108.70" r="2.9" fill="#fff" stroke="#111" stroke-width="0.9"/>
<circle cx="576.41" cy="102.70" r="2.9" fill="#fff" stroke="#111" stroke-width="0.9"/>
<circle cx="582.29" cy="106.00" r="2.9" fill="#fff" stroke="#111" stroke-width="0.9"/>
<circle cx="588.18" cy="101.80" r="2.9" fill="#fff" stroke="#111" stroke-width="0.9"/>
<circle cx="594.07" cy="102.70" r="2.9" fill="#fff" stroke="#111" stroke-width="0.9"/>
<circle cx="599.96" cy="103.00" r="2.9" fill="#fff" stroke="#111" stroke-width="0.9"/>
<path d="M464.54 92.40V104.90M463.34 92.40h2.4M463.34 104.90h2.4M470.43 94.30V103.60M469.23 94.30h2.4M469.23 103.60h2.4M476.32 95.50V105.50M475.12 95.50h2.4M475.12 105.50h2.4M482.21 100.50V109.30M481.01 100.50h2.4M481.01 109.30h2.4M488.09 99.90V107.40M486.89 99.90h2.4M486.89 107.40h2.4M493.98 97.40V108.00M492.78 97.40h2.4M492.78 108.00h2.4M499.87 94.90V110.50M498.67 94.90h2.4M498.67 110.50h2.4M505.76 89.30V106.10M504.56 89.30h2.4M504.56 106.10h2.4M511.64 98.00V107.40M510.44 98.00h2.4M510.44 107.40h2.4M517.53 91.20V107.40M516.33 91.20h2.4M516.33 107.40h2.4M523.42 86.80V106.10M522.22 86.80h2.4M522.22 106.10h2.4M529.31 88.00V103.60M528.11 88.00h2.4M528.11 103.60h2.4M535.19 87.50V103.00M533.99 87.50h2.4M533.99 103.00h2.4M541.08 100.50V109.90M539.88 100.50h2.4M539.88 109.90h2.4M546.97 97.40V106.80M545.77 97.40h2.4M545.77 106.80h2.4M552.86 98.70V109.90M551.66 98.70h2.4M551.66 109.90h2.4M558.74 98.00V107.40M557.54 98.00h2.4M557.54 107.40h2.4M564.63 90.00V101.80M563.43 90.00h2.4M563.43 101.80h2.4M570.52 96.80V107.70M569.32 96.80h2.4M569.32 107.70h2.4M576.41 100.50V110.50M575.21 100.50h2.4M575.21 110.50h2.4M582.29 100.50V111.80M581.09 100.50h2.4M581.09 111.80h2.4M588.18 91.80V103.00M586.98 91.80h2.4M586.98 103.00h2.4M594.07 91.20V101.20M592.87 91.20h2.4M592.87 101.20h2.4M599.96 93.70V104.90M598.76 93.70h2.4M598.76 104.90h2.4" stroke="#111" stroke-width="0.9" fill="none"/>
<path d="M464.54 98.70L470.43 98.90L476.32 99.90L482.21 104.60L488.09 102.60L493.98 102.60L499.87 102.40L505.76 94.70L511.64 102.60L517.53 98.90L523.42 94.70L529.31 93.90L535.19 96.80L541.08 105.50L546.97 102.40L552.86 103.70L558.74 103.00L564.63 96.80L570.52 102.70L576.41 105.50L582.29 106.40L588.18 98.00L594.07 96.20L599.96 99.90" stroke="#111" stroke-width="0.9" fill="none"/>
<circle cx="464.54" cy="98.70" r="3.1" fill="#000"/>
<circle cx="470.43" cy="98.90" r="3.1" fill="#000"/>
<circle cx="476.32" cy="99.90" r="3.1" fill="#000"/>
<circle cx="482.21" cy="104.60" r="3.1" fill="#000"/>
<circle cx="488.09" cy="102.60" r="3.1" fill="#000"/>
<circle cx="493.98" cy="102.60" r="3.1" fill="#000"/>
<circle cx="499.87" cy="102.40" r="3.1" fill="#000"/>
<circle cx="505.76" cy="94.70" r="3.1" fill="#000"/>
<circle cx="511.64" cy="102.60" r="3.1" fill="#000"/>
<circle cx="517.53" cy="98.90" r="3.1" fill="#000"/>
<circle cx="523.42" cy="94.70" r="3.1" fill="#000"/>
<circle cx="529.31" cy="93.90" r="3.1" fill="#000"/>
<circle cx="535.19" cy="96.80" r="3.1" fill="#000"/>
<circle cx="541.08" cy="105.50" r="3.1" fill="#000"/>
<circle cx="546.97" cy="102.40" r="3.1" fill="#000"/>
<circle cx="552.86" cy="103.70" r="3.1" fill="#000"/>
<circle cx="558.74" cy="103.00" r="3.1" fill="#000"/>
<circle cx="564.63" cy="96.80" r="3.1" fill="#000"/>
<circle cx="570.52" cy="102.70" r="3.1" fill="#000"/>
<circle cx="576.41" cy="105.50" r="3.1" fill="#000"/>
<circle cx="582.29" cy="106.40" r="3.1" fill="#000"/>
<circle cx="588.18" cy="98.00" r="3.1" fill="#000"/>
<circle cx="594.07" cy="96.20" r="3.1" fill="#000"/>
<circle cx="599.96" cy="99.90" r="3.1" fill="#000"/>
<path d="M469.90 114.90L469.90 112.75M469.90 116.10L469.90 118.25M470.42 115.20L472.28 114.12M469.38 115.20L467.52 114.12M469.38 115.80L467.52 116.88M470.42 115.80L472.28 116.88" stroke="#1a1a1a" stroke-width="0.95" opacity="0.9" fill="none"/><circle cx="469.90" cy="112.80" r="0.72" fill="#1a1a1a"/><circle cx="469.90" cy="118.20" r="0.72" fill="#1a1a1a"/><circle cx="472.24" cy="114.15" r="0.72" fill="#1a1a1a"/><circle cx="467.56" cy="114.15" r="0.72" fill="#1a1a1a"/><circle cx="467.56" cy="116.85" r="0.72" fill="#1a1a1a"/><circle cx="472.24" cy="116.85" r="0.72" fill="#1a1a1a"/>
<path d="M476.00 117.70L476.00 115.55M476.00 118.90L476.00 121.05M476.52 118.00L478.38 116.92M475.48 118.00L473.62 116.92M475.48 118.60L473.62 119.67M476.52 118.60L478.38 119.67" stroke="#1a1a1a" stroke-width="0.95" opacity="0.9" fill="none"/><circle cx="476.00" cy="115.60" r="0.72" fill="#1a1a1a"/><circle cx="476.00" cy="121.00" r="0.72" fill="#1a1a1a"/><circle cx="478.34" cy="116.95" r="0.72" fill="#1a1a1a"/><circle cx="473.66" cy="116.95" r="0.72" fill="#1a1a1a"/><circle cx="473.66" cy="119.65" r="0.72" fill="#1a1a1a"/><circle cx="478.34" cy="119.65" r="0.72" fill="#1a1a1a"/>
<path d="M481.70 120.20L481.70 118.05M481.70 121.40L481.70 123.55M482.22 120.50L484.08 119.42M481.18 120.50L479.32 119.42M481.18 121.10L479.32 122.17M482.22 121.10L484.08 122.17" stroke="#1a1a1a" stroke-width="0.95" opacity="0.9" fill="none"/><circle cx="481.70" cy="118.10" r="0.72" fill="#1a1a1a"/><circle cx="481.70" cy="123.50" r="0.72" fill="#1a1a1a"/><circle cx="484.04" cy="119.45" r="0.72" fill="#1a1a1a"/><circle cx="479.36" cy="119.45" r="0.72" fill="#1a1a1a"/><circle cx="479.36" cy="122.15" r="0.72" fill="#1a1a1a"/><circle cx="484.04" cy="122.15" r="0.72" fill="#1a1a1a"/>
<path d="M488.50 120.90L488.50 118.75M488.50 122.10L488.50 124.25M489.02 121.20L490.88 120.12M487.98 121.20L486.12 120.12M487.98 121.80L486.12 122.88M489.02 121.80L490.88 122.88" stroke="#1a1a1a" stroke-width="0.95" opacity="0.9" fill="none"/><circle cx="488.50" cy="118.80" r="0.72" fill="#1a1a1a"/><circle cx="488.50" cy="124.20" r="0.72" fill="#1a1a1a"/><circle cx="490.84" cy="120.15" r="0.72" fill="#1a1a1a"/><circle cx="486.16" cy="120.15" r="0.72" fill="#1a1a1a"/><circle cx="486.16" cy="122.85" r="0.72" fill="#1a1a1a"/><circle cx="490.84" cy="122.85" r="0.72" fill="#1a1a1a"/>
<path d="M494.50 121.60L494.50 119.45M494.50 122.80L494.50 124.95M495.02 121.90L496.88 120.82M493.98 121.90L492.12 120.82M493.98 122.50L492.12 123.57M495.02 122.50L496.88 123.57" stroke="#1a1a1a" stroke-width="0.95" opacity="0.9" fill="none"/><circle cx="494.50" cy="119.50" r="0.72" fill="#1a1a1a"/><circle cx="494.50" cy="124.90" r="0.72" fill="#1a1a1a"/><circle cx="496.84" cy="120.85" r="0.72" fill="#1a1a1a"/><circle cx="492.16" cy="120.85" r="0.72" fill="#1a1a1a"/><circle cx="492.16" cy="123.55" r="0.72" fill="#1a1a1a"/><circle cx="496.84" cy="123.55" r="0.72" fill="#1a1a1a"/>
<path d="M500.20 120.60L500.20 118.45M500.20 121.80L500.20 123.95M500.72 120.90L502.58 119.82M499.68 120.90L497.82 119.82M499.68 121.50L497.82 122.57M500.72 121.50L502.58 122.57" stroke="#1a1a1a" stroke-width="0.95" opacity="0.9" fill="none"/><circle cx="500.20" cy="118.50" r="0.72" fill="#1a1a1a"/><circle cx="500.20" cy="123.90" r="0.72" fill="#1a1a1a"/><circle cx="502.54" cy="119.85" r="0.72" fill="#1a1a1a"/><circle cx="497.86" cy="119.85" r="0.72" fill="#1a1a1a"/><circle cx="497.86" cy="122.55" r="0.72" fill="#1a1a1a"/><circle cx="502.54" cy="122.55" r="0.72" fill="#1a1a1a"/>
<path d="M511.30 121.00L511.30 118.85M511.30 122.20L511.30 124.35M511.82 121.30L513.68 120.22M510.78 121.30L508.92 120.22M510.78 121.90L508.92 122.97M511.82 121.90L513.68 122.97" stroke="#1a1a1a" stroke-width="0.95" opacity="0.9" fill="none"/><circle cx="511.30" cy="118.90" r="0.72" fill="#1a1a1a"/><circle cx="511.30" cy="124.30" r="0.72" fill="#1a1a1a"/><circle cx="513.64" cy="120.25" r="0.72" fill="#1a1a1a"/><circle cx="508.96" cy="120.25" r="0.72" fill="#1a1a1a"/><circle cx="508.96" cy="122.95" r="0.72" fill="#1a1a1a"/><circle cx="513.64" cy="122.95" r="0.72" fill="#1a1a1a"/>
<path d="M74.53 191.20V199.20M73.33 191.20h2.4M73.33 199.20h2.4M80.40 186.20V192.30M79.20 186.20h2.4M79.20 192.30h2.4M86.27 183.40V189.40M85.07 183.40h2.4M85.07 189.40h2.4M92.13 184.70V190.70M90.93 184.70h2.4M90.93 190.70h2.4M98.00 186.70V194.30M96.80 186.70h2.4M96.80 194.30h2.4M103.87 177.00V183.00M102.67 177.00h2.4M102.67 183.00h2.4M109.73 177.60V183.60M108.53 177.60h2.4M108.53 183.60h2.4M115.60 178.00V184.00M114.40 178.00h2.4M114.40 184.00h2.4M121.47 179.70V185.70M120.27 179.70h2.4M120.27 185.70h2.4M127.33 185.70V191.70M126.13 185.70h2.4M126.13 191.70h2.4M133.20 184.20V190.20M132.00 184.20h2.4M132.00 190.20h2.4M139.07 183.80V189.80M137.87 183.80h2.4M137.87 189.80h2.4M144.93 185.60V194.40M143.73 185.60h2.4M143.73 194.40h2.4M150.80 191.20V199.80M149.60 191.20h2.4M149.60 199.80h2.4M156.67 192.90V198.90M155.47 192.90h2.4M155.47 198.90h2.4M162.53 191.30V197.30M161.33 191.30h2.4M161.33 197.30h2.4M168.40 193.20V199.20M167.20 193.20h2.4M167.20 199.20h2.4M174.27 194.50V201.90M173.07 194.50h2.4M173.07 201.90h2.4M180.13 196.30V202.30M178.93 196.30h2.4M178.93 202.30h2.4M186.00 195.00V201.70M184.80 195.00h2.4M184.80 201.70h2.4M191.87 195.50V201.50M190.67 195.50h2.4M190.67 201.50h2.4M197.73 198.50V204.50M196.53 198.50h2.4M196.53 204.50h2.4M203.60 195.00V201.70M202.40 195.00h2.4M202.40 201.70h2.4M209.47 200.50V206.50M208.27 200.50h2.4M208.27 206.50h2.4" stroke="#111" stroke-width="0.9" fill="none"/>
<path d="M74.53 196.20L80.40 189.30L86.27 186.40L92.13 187.70L98.00 189.70L103.87 180.00L109.73 180.60L115.60 181.00L121.47 182.70L127.33 188.70L133.20 187.20L139.07 186.80L144.93 191.40L150.80 196.80L156.67 195.90L162.53 194.30L168.40 196.20L174.27 198.90L180.13 199.30L186.00 198.70L191.87 198.50L197.73 201.50L203.60 198.70L209.47 203.50" stroke="#111" stroke-width="0.9" fill="none"/>
<circle cx="74.53" cy="196.20" r="2.9" fill="#fff" stroke="#111" stroke-width="0.9"/>
<circle cx="80.40" cy="189.30" r="2.9" fill="#fff" stroke="#111" stroke-width="0.9"/>
<circle cx="86.27" cy="186.40" r="2.9" fill="#fff" stroke="#111" stroke-width="0.9"/>
<circle cx="92.13" cy="187.70" r="2.9" fill="#fff" stroke="#111" stroke-width="0.9"/>
<circle cx="98.00" cy="189.70" r="2.9" fill="#fff" stroke="#111" stroke-width="0.9"/>
<circle cx="103.87" cy="180.00" r="2.9" fill="#fff" stroke="#111" stroke-width="0.9"/>
<circle cx="109.73" cy="180.60" r="2.9" fill="#fff" stroke="#111" stroke-width="0.9"/>
<circle cx="115.60" cy="181.00" r="2.9" fill="#fff" stroke="#111" stroke-width="0.9"/>
<circle cx="121.47" cy="182.70" r="2.9" fill="#fff" stroke="#111" stroke-width="0.9"/>
<circle cx="127.33" cy="188.70" r="2.9" fill="#fff" stroke="#111" stroke-width="0.9"/>
<circle cx="133.20" cy="187.20" r="2.9" fill="#fff" stroke="#111" stroke-width="0.9"/>
<circle cx="139.07" cy="186.80" r="2.9" fill="#fff" stroke="#111" stroke-width="0.9"/>
<circle cx="144.93" cy="191.40" r="2.9" fill="#fff" stroke="#111" stroke-width="0.9"/>
<circle cx="150.80" cy="196.80" r="2.9" fill="#fff" stroke="#111" stroke-width="0.9"/>
<circle cx="156.67" cy="195.90" r="2.9" fill="#fff" stroke="#111" stroke-width="0.9"/>
<circle cx="162.53" cy="194.30" r="2.9" fill="#fff" stroke="#111" stroke-width="0.9"/>
<circle cx="168.40" cy="196.20" r="2.9" fill="#fff" stroke="#111" stroke-width="0.9"/>
<circle cx="174.27" cy="198.90" r="2.9" fill="#fff" stroke="#111" stroke-width="0.9"/>
<circle cx="180.13" cy="199.30" r="2.9" fill="#fff" stroke="#111" stroke-width="0.9"/>
<circle cx="186.00" cy="198.70" r="2.9" fill="#fff" stroke="#111" stroke-width="0.9"/>
<circle cx="191.87" cy="198.50" r="2.9" fill="#fff" stroke="#111" stroke-width="0.9"/>
<circle cx="197.73" cy="201.50" r="2.9" fill="#fff" stroke="#111" stroke-width="0.9"/>
<circle cx="203.60" cy="198.70" r="2.9" fill="#fff" stroke="#111" stroke-width="0.9"/>
<circle cx="209.47" cy="203.50" r="2.9" fill="#fff" stroke="#111" stroke-width="0.9"/>
<path d="M74.53 200.90V206.90M73.33 200.90h2.4M73.33 206.90h2.4M80.40 191.70V202.40M79.20 191.70h2.4M79.20 202.40h2.4M86.27 177.60V183.60M85.07 177.60h2.4M85.07 183.60h2.4M92.13 176.00V182.00M90.93 176.00h2.4M90.93 182.00h2.4M98.00 175.70V181.70M96.80 175.70h2.4M96.80 181.70h2.4M103.87 174.40V185.00M102.67 174.40h2.4M102.67 185.00h2.4M109.73 177.60V183.60M108.53 177.60h2.4M108.53 183.60h2.4M115.60 183.40V189.40M114.40 183.40h2.4M114.40 189.40h2.4M121.47 187.90V193.90M120.27 187.90h2.4M120.27 193.90h2.4M127.33 189.20V195.20M126.13 189.20h2.4M126.13 195.20h2.4M133.20 190.70V196.70M132.00 190.70h2.4M132.00 196.70h2.4M139.07 187.60V193.60M137.87 187.60h2.4M137.87 193.60h2.4M144.93 194.70V203.70M143.73 194.70h2.4M143.73 203.70h2.4M150.80 198.40V205.50M149.60 198.40h2.4M149.60 205.50h2.4M156.67 198.80V204.80M155.47 198.80h2.4M155.47 204.80h2.4M162.53 194.70V201.20M161.33 194.70h2.4M161.33 201.20h2.4M168.40 198.80V206.10M167.20 198.80h2.4M167.20 206.10h2.4M174.27 204.40V210.40M173.07 204.40h2.4M173.07 210.40h2.4M180.13 199.20V205.20M178.93 199.20h2.4M178.93 205.20h2.4M186.00 200.00V206.00M184.80 200.00h2.4M184.80 206.00h2.4M191.87 195.90V201.90M190.67 195.90h2.4M190.67 201.90h2.4M197.73 198.80V204.80M196.53 198.80h2.4M196.53 204.80h2.4M203.60 200.00V207.40M202.40 200.00h2.4M202.40 207.40h2.4M209.47 199.90V209.90M208.27 199.90h2.4M208.27 209.90h2.4" stroke="#111" stroke-width="0.9" fill="none"/>
<path d="M74.53 203.90L80.40 194.70L86.27 180.60L92.13 179.00L98.00 178.70L103.87 179.70L109.73 180.60L115.60 186.40L121.47 190.90L127.33 192.20L133.20 193.70L139.07 190.60L144.93 197.70L150.80 201.40L156.67 201.80L162.53 197.70L168.40 201.80L174.27 207.40L180.13 202.20L186.00 203.00L191.87 198.90L197.73 201.80L203.60 203.00L209.47 204.70" stroke="#111" stroke-width="0.9" fill="none"/>
<circle cx="74.53" cy="203.90" r="3.1" fill="#000"/>
<circle cx="80.40" cy="194.70" r="3.1" fill="#000"/>
<circle cx="86.27" cy="180.60" r="3.1" fill="#000"/>
<circle cx="92.13" cy="179.00" r="3.1" fill="#000"/>
<circle cx="98.00" cy="178.70" r="3.1" fill="#000"/>
<circle cx="103.87" cy="179.70" r="3.1" fill="#000"/>
<circle cx="109.73" cy="180.60" r="3.1" fill="#000"/>
<circle cx="115.60" cy="186.40" r="3.1" fill="#000"/>
<circle cx="121.47" cy="190.90" r="3.1" fill="#000"/>
<circle cx="127.33" cy="192.20" r="3.1" fill="#000"/>
<circle cx="133.20" cy="193.70" r="3.1" fill="#000"/>
<circle cx="139.07" cy="190.60" r="3.1" fill="#000"/>
<circle cx="144.93" cy="197.70" r="3.1" fill="#000"/>
<circle cx="150.80" cy="201.40" r="3.1" fill="#000"/>
<circle cx="156.67" cy="201.80" r="3.1" fill="#000"/>
<circle cx="162.53" cy="197.70" r="3.1" fill="#000"/>
<circle cx="168.40" cy="201.80" r="3.1" fill="#000"/>
<circle cx="174.27" cy="207.40" r="3.1" fill="#000"/>
<circle cx="180.13" cy="202.20" r="3.1" fill="#000"/>
<circle cx="186.00" cy="203.00" r="3.1" fill="#000"/>
<circle cx="191.87" cy="198.90" r="3.1" fill="#000"/>
<circle cx="197.73" cy="201.80" r="3.1" fill="#000"/>
<circle cx="203.60" cy="203.00" r="3.1" fill="#000"/>
<circle cx="209.47" cy="204.70" r="3.1" fill="#000"/>
<path d="M272.34 201.80V209.30M271.14 201.80h2.4M271.14 209.30h2.4M278.22 188.10V199.90M277.02 188.10h2.4M277.02 199.90h2.4M284.10 183.10V192.50M282.90 183.10h2.4M282.90 192.50h2.4M289.98 182.50V195.00M288.78 182.50h2.4M288.78 195.00h2.4M295.86 183.10V197.40M294.66 183.10h2.4M294.66 197.40h2.4M301.74 190.00V204.30M300.54 190.00h2.4M300.54 204.30h2.4M307.61 190.00V201.80M306.41 190.00h2.4M306.41 201.80h2.4M313.49 191.20V199.90M312.29 191.20h2.4M312.29 199.90h2.4M319.37 191.20V201.80M318.17 191.20h2.4M318.17 201.80h2.4M325.25 192.50V201.20M324.05 192.50h2.4M324.05 201.20h2.4M331.13 192.50V205.50M329.93 192.50h2.4M329.93 205.50h2.4M337.01 194.30V203.30M335.81 194.30h2.4M335.81 203.30h2.4M342.89 199.30V209.50M341.69 199.30h2.4M341.69 209.50h2.4M348.77 202.40V208.90M347.57 202.40h2.4M347.57 208.90h2.4M354.65 196.20V206.80M353.45 196.20h2.4M353.45 206.80h2.4M360.53 199.30V209.90M359.33 199.30h2.4M359.33 209.90h2.4M366.41 202.40V209.90M365.21 202.40h2.4M365.21 209.90h2.4M372.29 197.50V209.90M371.09 197.50h2.4M371.09 209.90h2.4M378.16 198.70V206.80M376.96 198.70h2.4M376.96 206.80h2.4M384.04 196.20V208.00M382.84 196.20h2.4M382.84 208.00h2.4M389.92 200.60V208.70M388.72 200.60h2.4M388.72 208.70h2.4M395.80 197.50V206.20M394.60 197.50h2.4M394.60 206.20h2.4M401.68 198.20V206.20M400.48 198.20h2.4M400.48 206.20h2.4M407.56 198.70V206.80M406.36 198.70h2.4M406.36 206.80h2.4" stroke="#111" stroke-width="0.9" fill="none"/>
<path d="M272.34 205.30L278.22 194.30L284.10 187.80L289.98 188.70L295.86 189.70L301.74 196.80L307.61 195.60L313.49 195.90L319.37 197.20L325.25 197.20L331.13 199.30L337.01 199.30L342.89 205.50L348.77 204.90L354.65 201.20L360.53 204.30L366.41 205.90L372.29 203.70L378.16 202.40L384.04 202.40L389.92 204.70L395.80 201.40L401.68 202.20L407.56 202.70" stroke="#111" stroke-width="0.9" fill="none"/>
<circle cx="272.34" cy="205.30" r="2.9" fill="#fff" stroke="#111" stroke-width="0.9"/>
<circle cx="278.22" cy="194.30" r="2.9" fill="#fff" stroke="#111" stroke-width="0.9"/>
<circle cx="284.10" cy="187.80" r="2.9" fill="#fff" stroke="#111" stroke-width="0.9"/>
<circle cx="289.98" cy="188.70" r="2.9" fill="#fff" stroke="#111" stroke-width="0.9"/>
<circle cx="295.86" cy="189.70" r="2.9" fill="#fff" stroke="#111" stroke-width="0.9"/>
<circle cx="301.74" cy="196.80" r="2.9" fill="#fff" stroke="#111" stroke-width="0.9"/>
<circle cx="307.61" cy="195.60" r="2.9" fill="#fff" stroke="#111" stroke-width="0.9"/>
<circle cx="313.49" cy="195.90" r="2.9" fill="#fff" stroke="#111" stroke-width="0.9"/>
<circle cx="319.37" cy="197.20" r="2.9" fill="#fff" stroke="#111" stroke-width="0.9"/>
<circle cx="325.25" cy="197.20" r="2.9" fill="#fff" stroke="#111" stroke-width="0.9"/>
<circle cx="331.13" cy="199.30" r="2.9" fill="#fff" stroke="#111" stroke-width="0.9"/>
<circle cx="337.01" cy="199.30" r="2.9" fill="#fff" stroke="#111" stroke-width="0.9"/>
<circle cx="342.89" cy="205.50" r="2.9" fill="#fff" stroke="#111" stroke-width="0.9"/>
<circle cx="348.77" cy="204.90" r="2.9" fill="#fff" stroke="#111" stroke-width="0.9"/>
<circle cx="354.65" cy="201.20" r="2.9" fill="#fff" stroke="#111" stroke-width="0.9"/>
<circle cx="360.53" cy="204.30" r="2.9" fill="#fff" stroke="#111" stroke-width="0.9"/>
<circle cx="366.41" cy="205.90" r="2.9" fill="#fff" stroke="#111" stroke-width="0.9"/>
<circle cx="372.29" cy="203.70" r="2.9" fill="#fff" stroke="#111" stroke-width="0.9"/>
<circle cx="378.16" cy="202.40" r="2.9" fill="#fff" stroke="#111" stroke-width="0.9"/>
<circle cx="384.04" cy="202.40" r="2.9" fill="#fff" stroke="#111" stroke-width="0.9"/>
<circle cx="389.92" cy="204.70" r="2.9" fill="#fff" stroke="#111" stroke-width="0.9"/>
<circle cx="395.80" cy="201.40" r="2.9" fill="#fff" stroke="#111" stroke-width="0.9"/>
<circle cx="401.68" cy="202.20" r="2.9" fill="#fff" stroke="#111" stroke-width="0.9"/>
<circle cx="407.56" cy="202.70" r="2.9" fill="#fff" stroke="#111" stroke-width="0.9"/>
<path d="M272.34 209.00V217.00M271.14 209.00h2.4M271.14 217.00h2.4M278.22 217.40V225.40M277.02 217.40h2.4M277.02 225.40h2.4M284.10 218.10V226.10M282.90 218.10h2.4M282.90 226.10h2.4M289.98 214.90V222.60M288.78 214.90h2.4M288.78 222.60h2.4M295.86 214.90V222.90M294.66 214.90h2.4M294.66 222.90h2.4M301.74 210.50V221.10M300.54 210.50h2.4M300.54 221.10h2.4M307.61 208.40V218.00M306.41 208.40h2.4M306.41 218.00h2.4M313.49 200.60V216.10M312.29 200.60h2.4M312.29 216.10h2.4M319.37 200.60V215.50M318.17 200.60h2.4M318.17 215.50h2.4M325.25 204.30V219.30M324.05 204.30h2.4M324.05 219.30h2.4M331.13 203.10V219.30M329.93 203.10h2.4M329.93 219.30h2.4M337.01 203.70V216.80M335.81 203.70h2.4M335.81 216.80h2.4M342.89 204.90V218.70M341.69 204.90h2.4M341.69 218.70h2.4M348.77 205.90V217.40M347.57 205.90h2.4M347.57 217.40h2.4M354.65 206.50V217.40M353.45 206.50h2.4M353.45 217.40h2.4M360.53 209.90V221.80M359.33 209.90h2.4M359.33 221.80h2.4M366.41 212.40V223.00M365.21 212.40h2.4M365.21 223.00h2.4M372.29 214.90V223.00M371.09 214.90h2.4M371.09 223.00h2.4M378.16 211.80V222.40M376.96 211.80h2.4M376.96 222.40h2.4M384.04 207.40V219.90M382.84 207.40h2.4M382.84 219.90h2.4M389.92 207.40V219.90M388.72 207.40h2.4M388.72 219.90h2.4M395.80 212.40V223.00M394.60 212.40h2.4M394.60 223.00h2.4M401.68 213.70V222.40M400.48 213.70h2.4M400.48 222.40h2.4M407.56 212.40V222.40M406.36 212.40h2.4M406.36 222.40h2.4" stroke="#111" stroke-width="0.9" fill="none"/>
<path d="M272.34 213.00L278.22 221.40L284.10 222.10L289.98 218.60L295.86 218.90L301.74 214.90L307.61 213.00L313.49 208.70L319.37 207.70L325.25 211.40L331.13 211.20L337.01 208.40L342.89 208.90L348.77 209.90L354.65 210.50L360.53 214.90L366.41 218.00L372.29 219.30L378.16 216.80L384.04 212.70L389.92 212.70L395.80 217.40L401.68 218.00L407.56 217.40" stroke="#111" stroke-width="0.9" fill="none"/>
<circle cx="272.34" cy="213.00" r="3.1" fill="#000"/>
<circle cx="278.22" cy="221.40" r="3.1" fill="#000"/>
<circle cx="284.10" cy="222.10" r="3.1" fill="#000"/>
<circle cx="289.98" cy="218.60" r="3.1" fill="#000"/>
<circle cx="295.86" cy="218.90" r="3.1" fill="#000"/>
<circle cx="301.74" cy="214.90" r="3.1" fill="#000"/>
<circle cx="307.61" cy="213.00" r="3.1" fill="#000"/>
<circle cx="313.49" cy="208.70" r="3.1" fill="#000"/>
<circle cx="319.37" cy="207.70" r="3.1" fill="#000"/>
<circle cx="325.25" cy="211.40" r="3.1" fill="#000"/>
<circle cx="331.13" cy="211.20" r="3.1" fill="#000"/>
<circle cx="337.01" cy="208.40" r="3.1" fill="#000"/>
<circle cx="342.89" cy="208.90" r="3.1" fill="#000"/>
<circle cx="348.77" cy="209.90" r="3.1" fill="#000"/>
<circle cx="354.65" cy="210.50" r="3.1" fill="#000"/>
<circle cx="360.53" cy="214.90" r="3.1" fill="#000"/>
<circle cx="366.41" cy="218.00" r="3.1" fill="#000"/>
<circle cx="372.29" cy="219.30" r="3.1" fill="#000"/>
<circle cx="378.16" cy="216.80" r="3.1" fill="#000"/>
<circle cx="384.04" cy="212.70" r="3.1" fill="#000"/>
<circle cx="389.92" cy="212.70" r="3.1" fill="#000"/>
<circle cx="395.80" cy="217.40" r="3.1" fill="#000"/>
<circle cx="401.68" cy="218.00" r="3.1" fill="#000"/>
<circle cx="407.56" cy="217.40" r="3.1" fill="#000"/>
<path d="M275.60 233.80L275.60 231.65M275.60 235.00L275.60 237.15M276.12 234.10L277.98 233.03M275.08 234.10L273.22 233.03M275.08 234.70L273.22 235.78M276.12 234.70L277.98 235.78" stroke="#1a1a1a" stroke-width="0.95" opacity="0.9" fill="none"/><circle cx="275.60" cy="231.70" r="0.72" fill="#1a1a1a"/><circle cx="275.60" cy="237.10" r="0.72" fill="#1a1a1a"/><circle cx="277.94" cy="233.05" r="0.72" fill="#1a1a1a"/><circle cx="273.26" cy="233.05" r="0.72" fill="#1a1a1a"/><circle cx="273.26" cy="235.75" r="0.72" fill="#1a1a1a"/><circle cx="277.94" cy="235.75" r="0.72" fill="#1a1a1a"/>
<path d="M282.20 235.70L282.20 233.55M282.20 236.90L282.20 239.05M282.72 236.00L284.58 234.92M281.68 236.00L279.82 234.92M281.68 236.60L279.82 237.67M282.72 236.60L284.58 237.67" stroke="#1a1a1a" stroke-width="0.95" opacity="0.9" fill="none"/><circle cx="282.20" cy="233.60" r="0.72" fill="#1a1a1a"/><circle cx="282.20" cy="239.00" r="0.72" fill="#1a1a1a"/><circle cx="284.54" cy="234.95" r="0.72" fill="#1a1a1a"/><circle cx="279.86" cy="234.95" r="0.72" fill="#1a1a1a"/><circle cx="279.86" cy="237.65" r="0.72" fill="#1a1a1a"/><circle cx="284.54" cy="237.65" r="0.72" fill="#1a1a1a"/>
<path d="M287.80 234.50L287.80 232.35M287.80 235.70L287.80 237.85M288.32 234.80L290.18 233.72M287.28 234.80L285.42 233.72M287.28 235.40L285.42 236.47M288.32 235.40L290.18 236.47" stroke="#1a1a1a" stroke-width="0.95" opacity="0.9" fill="none"/><circle cx="287.80" cy="232.40" r="0.72" fill="#1a1a1a"/><circle cx="287.80" cy="237.80" r="0.72" fill="#1a1a1a"/><circle cx="290.14" cy="233.75" r="0.72" fill="#1a1a1a"/><circle cx="285.46" cy="233.75" r="0.72" fill="#1a1a1a"/><circle cx="285.46" cy="236.45" r="0.72" fill="#1a1a1a"/><circle cx="290.14" cy="236.45" r="0.72" fill="#1a1a1a"/>
<path d="M294.00 232.00L294.00 229.85M294.00 233.20L294.00 235.35M294.52 232.30L296.38 231.22M293.48 232.30L291.62 231.22M293.48 232.90L291.62 233.97M294.52 232.90L296.38 233.97" stroke="#1a1a1a" stroke-width="0.95" opacity="0.9" fill="none"/><circle cx="294.00" cy="229.90" r="0.72" fill="#1a1a1a"/><circle cx="294.00" cy="235.30" r="0.72" fill="#1a1a1a"/><circle cx="296.34" cy="231.25" r="0.72" fill="#1a1a1a"/><circle cx="291.66" cy="231.25" r="0.72" fill="#1a1a1a"/><circle cx="291.66" cy="233.95" r="0.72" fill="#1a1a1a"/><circle cx="296.34" cy="233.95" r="0.72" fill="#1a1a1a"/>
<path d="M306.50 225.70L306.50 223.55M306.50 226.90L306.50 229.05M307.02 226.00L308.88 224.92M305.98 226.00L304.12 224.92M305.98 226.60L304.12 227.67M307.02 226.60L308.88 227.67" stroke="#1a1a1a" stroke-width="0.95" opacity="0.9" fill="none"/><circle cx="306.50" cy="223.60" r="0.72" fill="#1a1a1a"/><circle cx="306.50" cy="229.00" r="0.72" fill="#1a1a1a"/><circle cx="308.84" cy="224.95" r="0.72" fill="#1a1a1a"/><circle cx="304.16" cy="224.95" r="0.72" fill="#1a1a1a"/><circle cx="304.16" cy="227.65" r="0.72" fill="#1a1a1a"/><circle cx="308.84" cy="227.65" r="0.72" fill="#1a1a1a"/>
<path d="M312.70 223.20L312.70 221.05M312.70 224.40L312.70 226.55M313.22 223.50L315.08 222.42M312.18 223.50L310.32 222.42M312.18 224.10L310.32 225.17M313.22 224.10L315.08 225.17" stroke="#1a1a1a" stroke-width="0.95" opacity="0.9" fill="none"/><circle cx="312.70" cy="221.10" r="0.72" fill="#1a1a1a"/><circle cx="312.70" cy="226.50" r="0.72" fill="#1a1a1a"/><circle cx="315.04" cy="222.45" r="0.72" fill="#1a1a1a"/><circle cx="310.36" cy="222.45" r="0.72" fill="#1a1a1a"/><circle cx="310.36" cy="225.15" r="0.72" fill="#1a1a1a"/><circle cx="315.04" cy="225.15" r="0.72" fill="#1a1a1a"/>
<path d="M363.90 230.70L363.90 228.55M363.90 231.90L363.90 234.05M364.42 231.00L366.28 229.92M363.38 231.00L361.52 229.92M363.38 231.60L361.52 232.67M364.42 231.60L366.28 232.67" stroke="#1a1a1a" stroke-width="0.95" opacity="0.9" fill="none"/><circle cx="363.90" cy="228.60" r="0.72" fill="#1a1a1a"/><circle cx="363.90" cy="234.00" r="0.72" fill="#1a1a1a"/><circle cx="366.24" cy="229.95" r="0.72" fill="#1a1a1a"/><circle cx="361.56" cy="229.95" r="0.72" fill="#1a1a1a"/><circle cx="361.56" cy="232.65" r="0.72" fill="#1a1a1a"/><circle cx="366.24" cy="232.65" r="0.72" fill="#1a1a1a"/>
<path d="M375.60 230.70L375.60 228.55M375.60 231.90L375.60 234.05M376.12 231.00L377.98 229.92M375.08 231.00L373.22 229.92M375.08 231.60L373.22 232.67M376.12 231.60L377.98 232.67" stroke="#1a1a1a" stroke-width="0.95" opacity="0.9" fill="none"/><circle cx="375.60" cy="228.60" r="0.72" fill="#1a1a1a"/><circle cx="375.60" cy="234.00" r="0.72" fill="#1a1a1a"/><circle cx="377.94" cy="229.95" r="0.72" fill="#1a1a1a"/><circle cx="373.26" cy="229.95" r="0.72" fill="#1a1a1a"/><circle cx="373.26" cy="232.65" r="0.72" fill="#1a1a1a"/><circle cx="377.94" cy="232.65" r="0.72" fill="#1a1a1a"/>
<path d="M382.00 230.50L382.00 228.35M382.00 231.70L382.00 233.85M382.52 230.80L384.38 229.72M381.48 230.80L379.62 229.72M381.48 231.40L379.62 232.47M382.52 231.40L384.38 232.47" stroke="#1a1a1a" stroke-width="0.95" opacity="0.9" fill="none"/><circle cx="382.00" cy="228.40" r="0.72" fill="#1a1a1a"/><circle cx="382.00" cy="233.80" r="0.72" fill="#1a1a1a"/><circle cx="384.34" cy="229.75" r="0.72" fill="#1a1a1a"/><circle cx="379.66" cy="229.75" r="0.72" fill="#1a1a1a"/><circle cx="379.66" cy="232.45" r="0.72" fill="#1a1a1a"/><circle cx="384.34" cy="232.45" r="0.72" fill="#1a1a1a"/>
<path d="M388.40 230.10L388.40 227.95M388.40 231.30L388.40 233.45M388.92 230.40L390.78 229.32M387.88 230.40L386.02 229.32M387.88 231.00L386.02 232.07M388.92 231.00L390.78 232.07" stroke="#1a1a1a" stroke-width="0.95" opacity="0.9" fill="none"/><circle cx="388.40" cy="228.00" r="0.72" fill="#1a1a1a"/><circle cx="388.40" cy="233.40" r="0.72" fill="#1a1a1a"/><circle cx="390.74" cy="229.35" r="0.72" fill="#1a1a1a"/><circle cx="386.06" cy="229.35" r="0.72" fill="#1a1a1a"/><circle cx="386.06" cy="232.05" r="0.72" fill="#1a1a1a"/><circle cx="390.74" cy="232.05" r="0.72" fill="#1a1a1a"/>
<path d="M394.80 230.50L394.80 228.35M394.80 231.70L394.80 233.85M395.32 230.80L397.18 229.72M394.28 230.80L392.42 229.72M394.28 231.40L392.42 232.47M395.32 231.40L397.18 232.47" stroke="#1a1a1a" stroke-width="0.95" opacity="0.9" fill="none"/><circle cx="394.80" cy="228.40" r="0.72" fill="#1a1a1a"/><circle cx="394.80" cy="233.80" r="0.72" fill="#1a1a1a"/><circle cx="397.14" cy="229.75" r="0.72" fill="#1a1a1a"/><circle cx="392.46" cy="229.75" r="0.72" fill="#1a1a1a"/><circle cx="392.46" cy="232.45" r="0.72" fill="#1a1a1a"/><circle cx="397.14" cy="232.45" r="0.72" fill="#1a1a1a"/>
<path d="M401.10 231.20L401.10 229.05M401.10 232.40L401.10 234.55M401.62 231.50L403.48 230.42M400.58 231.50L398.72 230.42M400.58 232.10L398.72 233.17M401.62 232.10L403.48 233.17" stroke="#1a1a1a" stroke-width="0.95" opacity="0.9" fill="none"/><circle cx="401.10" cy="229.10" r="0.72" fill="#1a1a1a"/><circle cx="401.10" cy="234.50" r="0.72" fill="#1a1a1a"/><circle cx="403.44" cy="230.45" r="0.72" fill="#1a1a1a"/><circle cx="398.76" cy="230.45" r="0.72" fill="#1a1a1a"/><circle cx="398.76" cy="233.15" r="0.72" fill="#1a1a1a"/><circle cx="403.44" cy="233.15" r="0.72" fill="#1a1a1a"/>
<path d="M407.00 230.10L407.00 227.95M407.00 231.30L407.00 233.45M407.52 230.40L409.38 229.32M406.48 230.40L404.62 229.32M406.48 231.00L404.62 232.07M407.52 231.00L409.38 232.07" stroke="#1a1a1a" stroke-width="0.95" opacity="0.9" fill="none"/><circle cx="407.00" cy="228.00" r="0.72" fill="#1a1a1a"/><circle cx="407.00" cy="233.40" r="0.72" fill="#1a1a1a"/><circle cx="409.34" cy="229.35" r="0.72" fill="#1a1a1a"/><circle cx="404.66" cy="229.35" r="0.72" fill="#1a1a1a"/><circle cx="404.66" cy="232.05" r="0.72" fill="#1a1a1a"/><circle cx="409.34" cy="232.05" r="0.72" fill="#1a1a1a"/>
<path d="M464.54 195.50V201.90M463.34 195.50h2.4M463.34 201.90h2.4M470.43 182.20V188.20M469.23 182.20h2.4M469.23 188.20h2.4M476.32 181.70V187.70M475.12 181.70h2.4M475.12 187.70h2.4M482.21 176.40V182.40M481.01 176.40h2.4M481.01 182.40h2.4M488.09 177.00V183.00M486.89 177.00h2.4M486.89 183.00h2.4M493.98 178.00V184.00M492.78 178.00h2.4M492.78 184.00h2.4M499.87 183.00V189.00M498.67 183.00h2.4M498.67 189.00h2.4M505.76 183.80V189.80M504.56 183.80h2.4M504.56 189.80h2.4M511.64 185.70V191.70M510.44 185.70h2.4M510.44 191.70h2.4M517.53 189.40V195.40M516.33 189.40h2.4M516.33 195.40h2.4M523.42 190.90V196.90M522.22 190.90h2.4M522.22 196.90h2.4M529.31 189.70V195.70M528.11 189.70h2.4M528.11 195.70h2.4M535.19 197.40V204.20M533.99 197.40h2.4M533.99 204.20h2.4M541.08 198.40V204.40M539.88 198.40h2.4M539.88 204.40h2.4M546.97 193.20V199.20M545.77 193.20h2.4M545.77 199.20h2.4M552.86 194.40V200.40M551.66 194.40h2.4M551.66 200.40h2.4M558.74 198.80V204.80M557.54 198.80h2.4M557.54 204.80h2.4M564.63 200.50V206.50M563.43 200.50h2.4M563.43 206.50h2.4M570.52 200.10V206.10M569.32 200.10h2.4M569.32 206.10h2.4M576.41 195.90V201.90M575.21 195.90h2.4M575.21 201.90h2.4M582.29 194.20V200.20M581.09 194.20h2.4M581.09 200.20h2.4M588.18 193.80V199.80M586.98 193.80h2.4M586.98 199.80h2.4M594.07 197.60V203.60M592.87 197.60h2.4M592.87 203.60h2.4M599.96 199.70V205.70M598.76 199.70h2.4M598.76 205.70h2.4" stroke="#111" stroke-width="0.9" fill="none"/>
<path d="M464.54 198.90L470.43 185.20L476.32 184.70L482.21 179.40L488.09 180.00L493.98 181.00L499.87 186.00L505.76 186.80L511.64 188.70L517.53 192.40L523.42 193.90L529.31 192.70L535.19 201.20L541.08 201.40L546.97 196.20L552.86 197.40L558.74 201.80L564.63 203.50L570.52 203.10L576.41 198.90L582.29 197.20L588.18 196.80L594.07 200.60L599.96 202.70" stroke="#111" stroke-width="0.9" fill="none"/>
<circle cx="464.54" cy="198.90" r="2.9" fill="#fff" stroke="#111" stroke-width="0.9"/>
<circle cx="470.43" cy="185.20" r="2.9" fill="#fff" stroke="#111" stroke-width="0.9"/>
<circle cx="476.32" cy="184.70" r="2.9" fill="#fff" stroke="#111" stroke-width="0.9"/>
<circle cx="482.21" cy="179.40" r="2.9" fill="#fff" stroke="#111" stroke-width="0.9"/>
<circle cx="488.09" cy="180.00" r="2.9" fill="#fff" stroke="#111" stroke-width="0.9"/>
<circle cx="493.98" cy="181.00" r="2.9" fill="#fff" stroke="#111" stroke-width="0.9"/>
<circle cx="499.87" cy="186.00" r="2.9" fill="#fff" stroke="#111" stroke-width="0.9"/>
<circle cx="505.76" cy="186.80" r="2.9" fill="#fff" stroke="#111" stroke-width="0.9"/>
<circle cx="511.64" cy="188.70" r="2.9" fill="#fff" stroke="#111" stroke-width="0.9"/>
<circle cx="517.53" cy="192.40" r="2.9" fill="#fff" stroke="#111" stroke-width="0.9"/>
<circle cx="523.42" cy="193.90" r="2.9" fill="#fff" stroke="#111" stroke-width="0.9"/>
<circle cx="529.31" cy="192.70" r="2.9" fill="#fff" stroke="#111" stroke-width="0.9"/>
<circle cx="535.19" cy="201.20" r="2.9" fill="#fff" stroke="#111" stroke-width="0.9"/>
<circle cx="541.08" cy="201.40" r="2.9" fill="#fff" stroke="#111" stroke-width="0.9"/>
<circle cx="546.97" cy="196.20" r="2.9" fill="#fff" stroke="#111" stroke-width="0.9"/>
<circle cx="552.86" cy="197.40" r="2.9" fill="#fff" stroke="#111" stroke-width="0.9"/>
<circle cx="558.74" cy="201.80" r="2.9" fill="#fff" stroke="#111" stroke-width="0.9"/>
<circle cx="564.63" cy="203.50" r="2.9" fill="#fff" stroke="#111" stroke-width="0.9"/>
<circle cx="570.52" cy="203.10" r="2.9" fill="#fff" stroke="#111" stroke-width="0.9"/>
<circle cx="576.41" cy="198.90" r="2.9" fill="#fff" stroke="#111" stroke-width="0.9"/>
<circle cx="582.29" cy="197.20" r="2.9" fill="#fff" stroke="#111" stroke-width="0.9"/>
<circle cx="588.18" cy="196.80" r="2.9" fill="#fff" stroke="#111" stroke-width="0.9"/>
<circle cx="594.07" cy="200.60" r="2.9" fill="#fff" stroke="#111" stroke-width="0.9"/>
<circle cx="599.96" cy="202.70" r="2.9" fill="#fff" stroke="#111" stroke-width="0.9"/>
<path d="M464.54 203.00V210.50M463.34 203.00h2.4M463.34 210.50h2.4M470.43 212.40V219.10M469.23 212.40h2.4M469.23 219.10h2.4M476.32 214.30V222.40M475.12 214.30h2.4M475.12 222.40h2.4M482.21 213.60V221.70M481.01 213.60h2.4M481.01 221.70h2.4M488.09 209.30V221.10M486.89 209.30h2.4M486.89 221.10h2.4M493.98 208.00V221.10M492.78 208.00h2.4M492.78 221.10h2.4M499.87 208.00V224.20M498.67 208.00h2.4M498.67 224.20h2.4M505.76 206.20V223.60M504.56 206.20h2.4M504.56 223.60h2.4M511.64 206.20V223.60M510.44 206.20h2.4M510.44 223.60h2.4M517.53 206.20V223.60M516.33 206.20h2.4M516.33 223.60h2.4M523.42 204.90V223.00M522.22 204.90h2.4M522.22 223.00h2.4M529.31 198.00V221.10M528.11 198.00h2.4M528.11 221.10h2.4M535.19 208.20V221.10M533.99 208.20h2.4M533.99 221.10h2.4M541.08 205.50V223.00M539.88 205.50h2.4M539.88 223.00h2.4M546.97 204.90V223.00M545.77 204.90h2.4M545.77 223.00h2.4M552.86 200.00V218.00M551.66 200.00h2.4M551.66 218.00h2.4M558.74 207.40V223.00M557.54 207.40h2.4M557.54 223.00h2.4M564.63 200.00V207.30M563.43 200.00h2.4M563.43 207.30h2.4M570.52 204.20V212.40M569.32 204.20h2.4M569.32 212.40h2.4M576.41 203.70V213.70M575.21 203.70h2.4M575.21 213.70h2.4M582.29 204.30V214.30M581.09 204.30h2.4M581.09 214.30h2.4M588.18 204.90V214.30M586.98 204.90h2.4M586.98 214.30h2.4M594.07 195.70V201.70M592.87 195.70h2.4M592.87 201.70h2.4M599.96 193.70V201.10M598.76 193.70h2.4M598.76 201.10h2.4" stroke="#111" stroke-width="0.9" fill="none"/>
<path d="M464.54 207.40L470.43 216.10L476.32 218.60L482.21 218.00L488.09 215.50L493.98 214.60L499.87 216.40L505.76 214.90L511.64 214.90L517.53 215.10L523.42 214.30L529.31 209.70L535.19 211.20L541.08 214.70L546.97 213.90L552.86 209.70L558.74 215.10L564.63 204.30L570.52 207.20L576.41 208.00L582.29 208.90L588.18 209.30L594.07 198.70L599.96 198.10" stroke="#111" stroke-width="0.9" fill="none"/>
<circle cx="464.54" cy="207.40" r="3.1" fill="#000"/>
<circle cx="470.43" cy="216.10" r="3.1" fill="#000"/>
<circle cx="476.32" cy="218.60" r="3.1" fill="#000"/>
<circle cx="482.21" cy="218.00" r="3.1" fill="#000"/>
<circle cx="488.09" cy="215.50" r="3.1" fill="#000"/>
<circle cx="493.98" cy="214.60" r="3.1" fill="#000"/>
<circle cx="499.87" cy="216.40" r="3.1" fill="#000"/>
<circle cx="505.76" cy="214.90" r="3.1" fill="#000"/>
<circle cx="511.64" cy="214.90" r="3.1" fill="#000"/>
<circle cx="517.53" cy="215.10" r="3.1" fill="#000"/>
<circle cx="523.42" cy="214.30" r="3.1" fill="#000"/>
<circle cx="529.31" cy="209.70" r="3.1" fill="#000"/>
<circle cx="535.19" cy="211.20" r="3.1" fill="#000"/>
<circle cx="541.08" cy="214.70" r="3.1" fill="#000"/>
<circle cx="546.97" cy="213.90" r="3.1" fill="#000"/>
<circle cx="552.86" cy="209.70" r="3.1" fill="#000"/>
<circle cx="558.74" cy="215.10" r="3.1" fill="#000"/>
<circle cx="564.63" cy="204.30" r="3.1" fill="#000"/>
<circle cx="570.52" cy="207.20" r="3.1" fill="#000"/>
<circle cx="576.41" cy="208.00" r="3.1" fill="#000"/>
<circle cx="582.29" cy="208.90" r="3.1" fill="#000"/>
<circle cx="588.18" cy="209.30" r="3.1" fill="#000"/>
<circle cx="594.07" cy="198.70" r="3.1" fill="#000"/>
<circle cx="599.96" cy="198.10" r="3.1" fill="#000"/>
<path d="M470.50 224.30L470.50 222.15M470.50 225.50L470.50 227.65M471.02 224.60L472.88 223.53M469.98 224.60L468.12 223.53M469.98 225.20L468.12 226.28M471.02 225.20L472.88 226.28" stroke="#1a1a1a" stroke-width="0.95" opacity="0.9" fill="none"/><circle cx="470.50" cy="222.20" r="0.72" fill="#1a1a1a"/><circle cx="470.50" cy="227.60" r="0.72" fill="#1a1a1a"/><circle cx="472.84" cy="223.55" r="0.72" fill="#1a1a1a"/><circle cx="468.16" cy="223.55" r="0.72" fill="#1a1a1a"/><circle cx="468.16" cy="226.25" r="0.72" fill="#1a1a1a"/><circle cx="472.84" cy="226.25" r="0.72" fill="#1a1a1a"/>
<path d="M476.30 229.50L476.30 227.35M476.30 230.70L476.30 232.85M476.82 229.80L478.68 228.72M475.78 229.80L473.92 228.72M475.78 230.40L473.92 231.47M476.82 230.40L478.68 231.47" stroke="#1a1a1a" stroke-width="0.95" opacity="0.9" fill="none"/><circle cx="476.30" cy="227.40" r="0.72" fill="#1a1a1a"/><circle cx="476.30" cy="232.80" r="0.72" fill="#1a1a1a"/><circle cx="478.64" cy="228.75" r="0.72" fill="#1a1a1a"/><circle cx="473.96" cy="228.75" r="0.72" fill="#1a1a1a"/><circle cx="473.96" cy="231.45" r="0.72" fill="#1a1a1a"/><circle cx="478.64" cy="231.45" r="0.72" fill="#1a1a1a"/>
<path d="M483.20 229.50L483.20 227.35M483.20 230.70L483.20 232.85M483.72 229.80L485.58 228.72M482.68 229.80L480.82 228.72M482.68 230.40L480.82 231.47M483.72 230.40L485.58 231.47" stroke="#1a1a1a" stroke-width="0.95" opacity="0.9" fill="none"/><circle cx="483.20" cy="227.40" r="0.72" fill="#1a1a1a"/><circle cx="483.20" cy="232.80" r="0.72" fill="#1a1a1a"/><circle cx="485.54" cy="228.75" r="0.72" fill="#1a1a1a"/><circle cx="480.86" cy="228.75" r="0.72" fill="#1a1a1a"/><circle cx="480.86" cy="231.45" r="0.72" fill="#1a1a1a"/><circle cx="485.54" cy="231.45" r="0.72" fill="#1a1a1a"/>
<path d="M489.50 229.50L489.50 227.35M489.50 230.70L489.50 232.85M490.02 229.80L491.88 228.72M488.98 229.80L487.12 228.72M488.98 230.40L487.12 231.47M490.02 230.40L491.88 231.47" stroke="#1a1a1a" stroke-width="0.95" opacity="0.9" fill="none"/><circle cx="489.50" cy="227.40" r="0.72" fill="#1a1a1a"/><circle cx="489.50" cy="232.80" r="0.72" fill="#1a1a1a"/><circle cx="491.84" cy="228.75" r="0.72" fill="#1a1a1a"/><circle cx="487.16" cy="228.75" r="0.72" fill="#1a1a1a"/><circle cx="487.16" cy="231.45" r="0.72" fill="#1a1a1a"/><circle cx="491.84" cy="231.45" r="0.72" fill="#1a1a1a"/>
<path d="M495.30 229.50L495.30 227.35M495.30 230.70L495.30 232.85M495.82 229.80L497.68 228.72M494.78 229.80L492.92 228.72M494.78 230.40L492.92 231.47M495.82 230.40L497.68 231.47" stroke="#1a1a1a" stroke-width="0.95" opacity="0.9" fill="none"/><circle cx="495.30" cy="227.40" r="0.72" fill="#1a1a1a"/><circle cx="495.30" cy="232.80" r="0.72" fill="#1a1a1a"/><circle cx="497.64" cy="228.75" r="0.72" fill="#1a1a1a"/><circle cx="492.96" cy="228.75" r="0.72" fill="#1a1a1a"/><circle cx="492.96" cy="231.45" r="0.72" fill="#1a1a1a"/><circle cx="497.64" cy="231.45" r="0.72" fill="#1a1a1a"/>
<path d="M501.10 229.50L501.10 227.35M501.10 230.70L501.10 232.85M501.62 229.80L503.48 228.72M500.58 229.80L498.72 228.72M500.58 230.40L498.72 231.47M501.62 230.40L503.48 231.47" stroke="#1a1a1a" stroke-width="0.95" opacity="0.9" fill="none"/><circle cx="501.10" cy="227.40" r="0.72" fill="#1a1a1a"/><circle cx="501.10" cy="232.80" r="0.72" fill="#1a1a1a"/><circle cx="503.44" cy="228.75" r="0.72" fill="#1a1a1a"/><circle cx="498.76" cy="228.75" r="0.72" fill="#1a1a1a"/><circle cx="498.76" cy="231.45" r="0.72" fill="#1a1a1a"/><circle cx="503.44" cy="231.45" r="0.72" fill="#1a1a1a"/>
<path d="M507.40 229.50L507.40 227.35M507.40 230.70L507.40 232.85M507.92 229.80L509.78 228.72M506.88 229.80L505.02 228.72M506.88 230.40L505.02 231.47M507.92 230.40L509.78 231.47" stroke="#1a1a1a" stroke-width="0.95" opacity="0.9" fill="none"/><circle cx="507.40" cy="227.40" r="0.72" fill="#1a1a1a"/><circle cx="507.40" cy="232.80" r="0.72" fill="#1a1a1a"/><circle cx="509.74" cy="228.75" r="0.72" fill="#1a1a1a"/><circle cx="505.06" cy="228.75" r="0.72" fill="#1a1a1a"/><circle cx="505.06" cy="231.45" r="0.72" fill="#1a1a1a"/><circle cx="509.74" cy="231.45" r="0.72" fill="#1a1a1a"/>
<path d="M513.80 229.50L513.80 227.35M513.80 230.70L513.80 232.85M514.32 229.80L516.18 228.72M513.28 229.80L511.42 228.72M513.28 230.40L511.42 231.47M514.32 230.40L516.18 231.47" stroke="#1a1a1a" stroke-width="0.95" opacity="0.9" fill="none"/><circle cx="513.80" cy="227.40" r="0.72" fill="#1a1a1a"/><circle cx="513.80" cy="232.80" r="0.72" fill="#1a1a1a"/><circle cx="516.14" cy="228.75" r="0.72" fill="#1a1a1a"/><circle cx="511.46" cy="228.75" r="0.72" fill="#1a1a1a"/><circle cx="511.46" cy="231.45" r="0.72" fill="#1a1a1a"/><circle cx="516.14" cy="231.45" r="0.72" fill="#1a1a1a"/>
<path d="M520.10 229.50L520.10 227.35M520.10 230.70L520.10 232.85M520.62 229.80L522.48 228.72M519.58 229.80L517.72 228.72M519.58 230.40L517.72 231.47M520.62 230.40L522.48 231.47" stroke="#1a1a1a" stroke-width="0.95" opacity="0.9" fill="none"/><circle cx="520.10" cy="227.40" r="0.72" fill="#1a1a1a"/><circle cx="520.10" cy="232.80" r="0.72" fill="#1a1a1a"/><circle cx="522.44" cy="228.75" r="0.72" fill="#1a1a1a"/><circle cx="517.76" cy="228.75" r="0.72" fill="#1a1a1a"/><circle cx="517.76" cy="231.45" r="0.72" fill="#1a1a1a"/><circle cx="522.44" cy="231.45" r="0.72" fill="#1a1a1a"/>
<path d="M74.53 338.70V348.70M73.33 338.70h2.4M73.33 348.70h2.4M80.40 296.00V304.90M79.20 296.00h2.4M79.20 304.90h2.4M86.27 336.00V351.20M85.07 336.00h2.4M85.07 351.20h2.4M92.13 310.20V322.10M90.93 310.20h2.4M90.93 322.10h2.4M98.00 328.00V337.00M96.80 328.00h2.4M96.80 337.00h2.4M103.87 360.00V366.00M102.67 360.00h2.4M102.67 366.00h2.4M109.73 331.20V347.50M108.53 331.20h2.4M108.53 347.50h2.4M115.60 337.20V343.20M114.40 337.20h2.4M114.40 343.20h2.4M121.47 347.00V357.70M120.27 347.00h2.4M120.27 357.70h2.4M127.33 331.20V347.80M126.13 331.20h2.4M126.13 347.80h2.4M133.20 341.80V360.50M132.00 341.80h2.4M132.00 360.50h2.4M139.07 345.00V353.00M137.87 345.00h2.4M137.87 353.00h2.4M144.93 355.40V362.90M143.73 355.40h2.4M143.73 362.90h2.4M150.80 355.40V365.50M149.60 355.40h2.4M149.60 365.50h2.4M156.67 354.20V365.00M155.47 354.20h2.4M155.47 365.00h2.4M162.53 360.20V368.60M161.33 360.20h2.4M161.33 368.60h2.4M168.40 349.50V372.00M167.20 349.50h2.4M167.20 372.00h2.4M174.27 366.10V375.00M173.07 366.10h2.4M173.07 375.00h2.4M180.13 370.90V388.70M178.93 370.90h2.4M178.93 388.70h2.4M186.00 363.70V378.00M184.80 363.70h2.4M184.80 378.00h2.4M191.87 361.30V382.70M190.67 361.30h2.4M190.67 382.70h2.4M197.73 367.30V389.90M196.53 367.30h2.4M196.53 389.90h2.4M203.60 374.40V381.50M202.40 374.40h2.4M202.40 381.50h2.4M209.47 359.00V380.40M208.27 359.00h2.4M208.27 380.40h2.4" stroke="#111" stroke-width="0.9" fill="none"/>
<path d="M74.53 342.70L80.40 301.90L86.27 341.00L92.13 316.20L98.00 334.00L103.87 363.00L109.73 339.00L115.60 340.20L121.47 354.70L127.33 341.00L133.20 351.00L139.07 350.00L144.93 359.90L150.80 362.50L156.67 359.70L162.53 365.60L168.40 360.90L174.27 372.00L180.13 379.90L186.00 370.90L191.87 372.00L197.73 380.40L203.60 378.50L209.47 369.70" stroke="#111" stroke-width="0.9" fill="none"/>
<circle cx="74.53" cy="342.70" r="2.9" fill="#fff" stroke="#111" stroke-width="0.9"/>
<circle cx="80.40" cy="301.90" r="2.9" fill="#fff" stroke="#111" stroke-width="0.9"/>
<circle cx="86.27" cy="341.00" r="2.9" fill="#fff" stroke="#111" stroke-width="0.9"/>
<circle cx="92.13" cy="316.20" r="2.9" fill="#fff" stroke="#111" stroke-width="0.9"/>
<circle cx="98.00" cy="334.00" r="2.9" fill="#fff" stroke="#111" stroke-width="0.9"/>
<circle cx="103.87" cy="363.00" r="2.9" fill="#fff" stroke="#111" stroke-width="0.9"/>
<circle cx="109.73" cy="339.00" r="2.9" fill="#fff" stroke="#111" stroke-width="0.9"/>
<circle cx="115.60" cy="340.20" r="2.9" fill="#fff" stroke="#111" stroke-width="0.9"/>
<circle cx="121.47" cy="354.70" r="2.9" fill="#fff" stroke="#111" stroke-width="0.9"/>
<circle cx="127.33" cy="341.00" r="2.9" fill="#fff" stroke="#111" stroke-width="0.9"/>
<circle cx="133.20" cy="351.00" r="2.9" fill="#fff" stroke="#111" stroke-width="0.9"/>
<circle cx="139.07" cy="350.00" r="2.9" fill="#fff" stroke="#111" stroke-width="0.9"/>
<circle cx="144.93" cy="359.90" r="2.9" fill="#fff" stroke="#111" stroke-width="0.9"/>
<circle cx="150.80" cy="362.50" r="2.9" fill="#fff" stroke="#111" stroke-width="0.9"/>
<circle cx="156.67" cy="359.70" r="2.9" fill="#fff" stroke="#111" stroke-width="0.9"/>
<circle cx="162.53" cy="365.60" r="2.9" fill="#fff" stroke="#111" stroke-width="0.9"/>
<circle cx="168.40" cy="360.90" r="2.9" fill="#fff" stroke="#111" stroke-width="0.9"/>
<circle cx="174.27" cy="372.00" r="2.9" fill="#fff" stroke="#111" stroke-width="0.9"/>
<circle cx="180.13" cy="379.90" r="2.9" fill="#fff" stroke="#111" stroke-width="0.9"/>
<circle cx="186.00" cy="370.90" r="2.9" fill="#fff" stroke="#111" stroke-width="0.9"/>
<circle cx="191.87" cy="372.00" r="2.9" fill="#fff" stroke="#111" stroke-width="0.9"/>
<circle cx="197.73" cy="380.40" r="2.9" fill="#fff" stroke="#111" stroke-width="0.9"/>
<circle cx="203.60" cy="378.50" r="2.9" fill="#fff" stroke="#111" stroke-width="0.9"/>
<circle cx="209.47" cy="369.70" r="2.9" fill="#fff" stroke="#111" stroke-width="0.9"/>
<path d="M74.53 353.40V359.40M73.33 353.40h2.4M73.33 359.40h2.4M80.40 308.40V314.40M79.20 308.40h2.4M79.20 314.40h2.4M86.27 317.40V323.40M85.07 317.40h2.4M85.07 323.40h2.4M92.13 330.70V352.40M90.93 330.70h2.4M90.93 352.40h2.4M98.00 320.90V354.30M96.80 320.90h2.4M96.80 354.30h2.4M103.87 319.70V349.50M102.67 319.70h2.4M102.67 349.50h2.4M109.73 366.00V377.40M108.53 366.00h2.4M108.53 377.40h2.4M115.60 351.80V368.70M114.40 351.80h2.4M114.40 368.70h2.4M121.47 354.20V374.30M120.27 354.20h2.4M120.27 374.30h2.4M127.33 349.50V363.70M126.13 349.50h2.4M126.13 363.70h2.4M133.20 355.40V374.30M132.00 355.40h2.4M132.00 374.30h2.4M139.07 352.60V363.70M137.87 352.60h2.4M137.87 363.70h2.4M144.93 368.80V382.40M143.73 368.80h2.4M143.73 382.40h2.4M150.80 369.00V375.00M149.60 369.00h2.4M149.60 375.00h2.4M156.67 356.60V372.00M155.47 356.60h2.4M155.47 372.00h2.4M162.53 376.20V382.20M161.33 376.20h2.4M161.33 382.20h2.4M168.40 375.50V381.50M167.20 375.50h2.4M167.20 381.50h2.4M174.27 375.60V386.30M173.07 375.60h2.4M173.07 386.30h2.4M180.13 367.30V378.60M178.93 367.30h2.4M178.93 378.60h2.4M186.00 370.90V387.50M184.80 370.90h2.4M184.80 387.50h2.4M191.87 375.60V385.10M190.67 375.60h2.4M190.67 385.10h2.4M197.73 361.30V367.30M196.53 361.30h2.4M196.53 367.30h2.4M203.60 383.30V391.10M202.40 383.30h2.4M202.40 391.10h2.4M209.47 361.30V381.60M208.27 361.30h2.4M208.27 381.60h2.4" stroke="#111" stroke-width="0.9" fill="none"/>
<path d="M74.53 356.40L80.40 311.40L86.27 320.40L92.13 333.70L98.00 338.10L103.87 335.00L109.73 371.80L115.60 359.70L121.47 363.90L127.33 357.20L133.20 365.20L139.07 355.60L144.93 371.80L150.80 372.00L156.67 364.20L162.53 379.20L168.40 378.50L174.27 381.60L180.13 375.60L186.00 377.50L191.87 380.80L197.73 364.20L203.60 386.30L209.47 372.80" stroke="#111" stroke-width="0.9" fill="none"/>
<circle cx="74.53" cy="356.40" r="3.1" fill="#000"/>
<circle cx="80.40" cy="311.40" r="3.1" fill="#000"/>
<circle cx="86.27" cy="320.40" r="3.1" fill="#000"/>
<circle cx="92.13" cy="333.70" r="3.1" fill="#000"/>
<circle cx="98.00" cy="338.10" r="3.1" fill="#000"/>
<circle cx="103.87" cy="335.00" r="3.1" fill="#000"/>
<circle cx="109.73" cy="371.80" r="3.1" fill="#000"/>
<circle cx="115.60" cy="359.70" r="3.1" fill="#000"/>
<circle cx="121.47" cy="363.90" r="3.1" fill="#000"/>
<circle cx="127.33" cy="357.20" r="3.1" fill="#000"/>
<circle cx="133.20" cy="365.20" r="3.1" fill="#000"/>
<circle cx="139.07" cy="355.60" r="3.1" fill="#000"/>
<circle cx="144.93" cy="371.80" r="3.1" fill="#000"/>
<circle cx="150.80" cy="372.00" r="3.1" fill="#000"/>
<circle cx="156.67" cy="364.20" r="3.1" fill="#000"/>
<circle cx="162.53" cy="379.20" r="3.1" fill="#000"/>
<circle cx="168.40" cy="378.50" r="3.1" fill="#000"/>
<circle cx="174.27" cy="381.60" r="3.1" fill="#000"/>
<circle cx="180.13" cy="375.60" r="3.1" fill="#000"/>
<circle cx="186.00" cy="377.50" r="3.1" fill="#000"/>
<circle cx="191.87" cy="380.80" r="3.1" fill="#000"/>
<circle cx="197.73" cy="364.20" r="3.1" fill="#000"/>
<circle cx="203.60" cy="386.30" r="3.1" fill="#000"/>
<circle cx="209.47" cy="372.80" r="3.1" fill="#000"/>
<path d="M272.34 331.60V353.00M271.14 331.60h2.4M271.14 353.00h2.4M278.22 315.00V328.00M277.02 315.00h2.4M277.02 328.00h2.4M284.10 312.60V349.50M282.90 312.60h2.4M282.90 349.50h2.4M289.98 317.30V341.10M288.78 317.30h2.4M288.78 341.10h2.4M295.86 335.20V347.10M294.66 335.20h2.4M294.66 347.10h2.4M301.74 356.60V368.50M300.54 356.60h2.4M300.54 368.50h2.4M307.61 338.80V355.40M306.41 338.80h2.4M306.41 355.40h2.4M313.49 368.50V378.20M312.29 368.50h2.4M312.29 378.20h2.4M319.37 353.00V368.50M318.17 353.00h2.4M318.17 368.50h2.4M325.25 354.20V374.40M324.05 354.20h2.4M324.05 374.40h2.4M331.13 345.90V374.40M329.93 345.90h2.4M329.93 374.40h2.4M337.01 356.60V373.20M335.81 356.60h2.4M335.81 373.20h2.4M342.89 356.60V374.40M341.69 356.60h2.4M341.69 374.40h2.4M348.77 374.40V385.10M347.57 374.40h2.4M347.57 385.10h2.4M354.65 375.60V384.00M353.45 375.60h2.4M353.45 384.00h2.4M360.53 355.40V374.40M359.33 355.40h2.4M359.33 374.40h2.4M366.41 377.40V383.40M365.21 377.40h2.4M365.21 383.40h2.4M372.29 363.70V375.60M371.09 363.70h2.4M371.09 375.60h2.4M378.16 380.40V386.90M376.96 380.40h2.4M376.96 386.90h2.4M384.04 374.40V385.10M382.84 374.40h2.4M382.84 385.10h2.4M389.92 376.90V382.90M388.72 376.90h2.4M388.72 382.90h2.4M395.80 372.00V387.50M394.60 372.00h2.4M394.60 387.50h2.4M401.68 353.00V379.20M400.48 353.00h2.4M400.48 379.20h2.4M407.56 366.10V378.00M406.36 366.10h2.4M406.36 378.00h2.4" stroke="#111" stroke-width="0.9" fill="none"/>
<path d="M272.34 341.80L278.22 321.60L284.10 330.90L289.98 329.20L295.86 341.10L301.74 362.50L307.61 347.10L313.49 375.20L319.37 360.90L325.25 364.20L331.13 360.20L337.01 364.90L342.89 365.60L348.77 380.40L354.65 379.90L360.53 365.60L366.41 380.40L372.29 370.40L378.16 383.90L384.04 380.80L389.92 379.90L395.80 381.60L401.68 366.60L407.56 372.00" stroke="#111" stroke-width="0.9" fill="none"/>
<circle cx="272.34" cy="341.80" r="2.9" fill="#fff" stroke="#111" stroke-width="0.9"/>
<circle cx="278.22" cy="321.60" r="2.9" fill="#fff" stroke="#111" stroke-width="0.9"/>
<circle cx="284.10" cy="330.90" r="2.9" fill="#fff" stroke="#111" stroke-width="0.9"/>
<circle cx="289.98" cy="329.20" r="2.9" fill="#fff" stroke="#111" stroke-width="0.9"/>
<circle cx="295.86" cy="341.10" r="2.9" fill="#fff" stroke="#111" stroke-width="0.9"/>
<circle cx="301.74" cy="362.50" r="2.9" fill="#fff" stroke="#111" stroke-width="0.9"/>
<circle cx="307.61" cy="347.10" r="2.9" fill="#fff" stroke="#111" stroke-width="0.9"/>
<circle cx="313.49" cy="375.20" r="2.9" fill="#fff" stroke="#111" stroke-width="0.9"/>
<circle cx="319.37" cy="360.90" r="2.9" fill="#fff" stroke="#111" stroke-width="0.9"/>
<circle cx="325.25" cy="364.20" r="2.9" fill="#fff" stroke="#111" stroke-width="0.9"/>
<circle cx="331.13" cy="360.20" r="2.9" fill="#fff" stroke="#111" stroke-width="0.9"/>
<circle cx="337.01" cy="364.90" r="2.9" fill="#fff" stroke="#111" stroke-width="0.9"/>
<circle cx="342.89" cy="365.60" r="2.9" fill="#fff" stroke="#111" stroke-width="0.9"/>
<circle cx="348.77" cy="380.40" r="2.9" fill="#fff" stroke="#111" stroke-width="0.9"/>
<circle cx="354.65" cy="379.90" r="2.9" fill="#fff" stroke="#111" stroke-width="0.9"/>
<circle cx="360.53" cy="365.60" r="2.9" fill="#fff" stroke="#111" stroke-width="0.9"/>
<circle cx="366.41" cy="380.40" r="2.9" fill="#fff" stroke="#111" stroke-width="0.9"/>
<circle cx="372.29" cy="370.40" r="2.9" fill="#fff" stroke="#111" stroke-width="0.9"/>
<circle cx="378.16" cy="383.90" r="2.9" fill="#fff" stroke="#111" stroke-width="0.9"/>
<circle cx="384.04" cy="380.80" r="2.9" fill="#fff" stroke="#111" stroke-width="0.9"/>
<circle cx="389.92" cy="379.90" r="2.9" fill="#fff" stroke="#111" stroke-width="0.9"/>
<circle cx="395.80" cy="381.60" r="2.9" fill="#fff" stroke="#111" stroke-width="0.9"/>
<circle cx="401.68" cy="366.60" r="2.9" fill="#fff" stroke="#111" stroke-width="0.9"/>
<circle cx="407.56" cy="372.00" r="2.9" fill="#fff" stroke="#111" stroke-width="0.9"/>
<path d="M272.34 387.60V393.60M271.14 387.60h2.4M271.14 393.60h2.4M278.22 390.10V396.10M277.02 390.10h2.4M277.02 396.10h2.4M284.10 375.60V391.20M282.90 375.60h2.4M282.90 391.20h2.4M289.98 381.30V387.30M288.78 381.30h2.4M288.78 387.30h2.4M295.86 365.60V385.60M294.66 365.60h2.4M294.66 385.60h2.4M301.74 363.70V384.00M300.54 363.70h2.4M300.54 384.00h2.4M307.61 374.40V386.20M306.41 374.40h2.4M306.41 386.20h2.4M313.49 341.10V368.50M312.29 341.10h2.4M312.29 368.50h2.4M319.37 363.70V381.60M318.17 363.70h2.4M318.17 381.60h2.4M325.25 385.70V391.70M324.05 385.70h2.4M324.05 391.70h2.4M331.13 370.90V389.90M329.93 370.90h2.4M329.93 389.90h2.4M337.01 361.30V374.40M335.81 361.30h2.4M335.81 374.40h2.4M342.89 370.90V389.90M341.69 370.90h2.4M341.69 389.90h2.4M348.77 368.50V381.60M347.57 368.50h2.4M347.57 381.60h2.4M354.65 350.60V381.60M353.45 350.60h2.4M353.45 381.60h2.4M360.53 376.80V389.90M359.33 376.80h2.4M359.33 389.90h2.4M366.41 374.40V386.30M365.21 374.40h2.4M365.21 386.30h2.4M372.29 372.00V382.70M371.09 372.00h2.4M371.09 382.70h2.4M378.16 381.60V393.40M376.96 381.60h2.4M376.96 393.40h2.4M384.04 367.30V381.60M382.84 367.30h2.4M382.84 381.60h2.4M389.92 375.60V387.50M388.72 375.60h2.4M388.72 387.50h2.4M395.80 375.60V385.10M394.60 375.60h2.4M394.60 385.10h2.4M401.68 378.00V387.50M400.48 378.00h2.4M400.48 387.50h2.4M407.56 372.00V389.90M406.36 372.00h2.4M406.36 389.90h2.4" stroke="#111" stroke-width="0.9" fill="none"/>
<path d="M272.34 390.60L278.22 393.10L284.10 383.10L289.98 384.30L295.86 375.20L301.74 374.00L307.61 381.80L313.49 354.70L319.37 372.70L325.25 388.70L331.13 379.70L337.01 368.00L342.89 379.70L348.77 375.60L354.65 365.60L360.53 383.90L366.41 380.80L372.29 377.50L378.16 387.50L384.04 374.40L389.92 383.20L395.80 379.90L401.68 383.20L407.56 378.50" stroke="#111" stroke-width="0.9" fill="none"/>
<circle cx="272.34" cy="390.60" r="3.1" fill="#000"/>
<circle cx="278.22" cy="393.10" r="3.1" fill="#000"/>
<circle cx="284.10" cy="383.10" r="3.1" fill="#000"/>
<circle cx="289.98" cy="384.30" r="3.1" fill="#000"/>
<circle cx="295.86" cy="375.20" r="3.1" fill="#000"/>
<circle cx="301.74" cy="374.00" r="3.1" fill="#000"/>
<circle cx="307.61" cy="381.80" r="3.1" fill="#000"/>
<circle cx="313.49" cy="354.70" r="3.1" fill="#000"/>
<circle cx="319.37" cy="372.70" r="3.1" fill="#000"/>
<circle cx="325.25" cy="388.70" r="3.1" fill="#000"/>
<circle cx="331.13" cy="379.70" r="3.1" fill="#000"/>
<circle cx="337.01" cy="368.00" r="3.1" fill="#000"/>
<circle cx="342.89" cy="379.70" r="3.1" fill="#000"/>
<circle cx="348.77" cy="375.60" r="3.1" fill="#000"/>
<circle cx="354.65" cy="365.60" r="3.1" fill="#000"/>
<circle cx="360.53" cy="383.90" r="3.1" fill="#000"/>
<circle cx="366.41" cy="380.80" r="3.1" fill="#000"/>
<circle cx="372.29" cy="377.50" r="3.1" fill="#000"/>
<circle cx="378.16" cy="387.50" r="3.1" fill="#000"/>
<circle cx="384.04" cy="374.40" r="3.1" fill="#000"/>
<circle cx="389.92" cy="383.20" r="3.1" fill="#000"/>
<circle cx="395.80" cy="379.90" r="3.1" fill="#000"/>
<circle cx="401.68" cy="383.20" r="3.1" fill="#000"/>
<circle cx="407.56" cy="378.50" r="3.1" fill="#000"/>
<path d="M272.30 399.40L272.30 397.25M272.30 400.60L272.30 402.75M272.82 399.70L274.68 398.62M271.78 399.70L269.92 398.62M271.78 400.30L269.92 401.38M272.82 400.30L274.68 401.38" stroke="#1a1a1a" stroke-width="0.95" opacity="0.9" fill="none"/><circle cx="272.30" cy="397.30" r="0.72" fill="#1a1a1a"/><circle cx="272.30" cy="402.70" r="0.72" fill="#1a1a1a"/><circle cx="274.64" cy="398.65" r="0.72" fill="#1a1a1a"/><circle cx="269.96" cy="398.65" r="0.72" fill="#1a1a1a"/><circle cx="269.96" cy="401.35" r="0.72" fill="#1a1a1a"/><circle cx="274.64" cy="401.35" r="0.72" fill="#1a1a1a"/>
<path d="M278.90 400.00L278.90 397.85M278.90 401.20L278.90 403.35M279.42 400.30L281.28 399.23M278.38 400.30L276.52 399.23M278.38 400.90L276.52 401.98M279.42 400.90L281.28 401.98" stroke="#1a1a1a" stroke-width="0.95" opacity="0.9" fill="none"/><circle cx="278.90" cy="397.90" r="0.72" fill="#1a1a1a"/><circle cx="278.90" cy="403.30" r="0.72" fill="#1a1a1a"/><circle cx="281.24" cy="399.25" r="0.72" fill="#1a1a1a"/><circle cx="276.56" cy="399.25" r="0.72" fill="#1a1a1a"/><circle cx="276.56" cy="401.95" r="0.72" fill="#1a1a1a"/><circle cx="281.24" cy="401.95" r="0.72" fill="#1a1a1a"/>
<path d="M290.40 395.10L290.40 392.95M290.40 396.30L290.40 398.45M290.92 395.40L292.78 394.33M289.88 395.40L288.02 394.33M289.88 396.00L288.02 397.08M290.92 396.00L292.78 397.08" stroke="#1a1a1a" stroke-width="0.95" opacity="0.9" fill="none"/><circle cx="290.40" cy="393.00" r="0.72" fill="#1a1a1a"/><circle cx="290.40" cy="398.40" r="0.72" fill="#1a1a1a"/><circle cx="292.74" cy="394.35" r="0.72" fill="#1a1a1a"/><circle cx="288.06" cy="394.35" r="0.72" fill="#1a1a1a"/><circle cx="288.06" cy="397.05" r="0.72" fill="#1a1a1a"/><circle cx="292.74" cy="397.05" r="0.72" fill="#1a1a1a"/>
<path d="M296.00 391.90L296.00 389.75M296.00 393.10L296.00 395.25M296.52 392.20L298.38 391.12M295.48 392.20L293.62 391.12M295.48 392.80L293.62 393.88M296.52 392.80L298.38 393.88" stroke="#1a1a1a" stroke-width="0.95" opacity="0.9" fill="none"/><circle cx="296.00" cy="389.80" r="0.72" fill="#1a1a1a"/><circle cx="296.00" cy="395.20" r="0.72" fill="#1a1a1a"/><circle cx="298.34" cy="391.15" r="0.72" fill="#1a1a1a"/><circle cx="293.66" cy="391.15" r="0.72" fill="#1a1a1a"/><circle cx="293.66" cy="393.85" r="0.72" fill="#1a1a1a"/><circle cx="298.34" cy="393.85" r="0.72" fill="#1a1a1a"/>
<path d="M307.90 391.90L307.90 389.75M307.90 393.10L307.90 395.25M308.42 392.20L310.28 391.12M307.38 392.20L305.52 391.12M307.38 392.80L305.52 393.88M308.42 392.80L310.28 393.88" stroke="#1a1a1a" stroke-width="0.95" opacity="0.9" fill="none"/><circle cx="307.90" cy="389.80" r="0.72" fill="#1a1a1a"/><circle cx="307.90" cy="395.20" r="0.72" fill="#1a1a1a"/><circle cx="310.24" cy="391.15" r="0.72" fill="#1a1a1a"/><circle cx="305.56" cy="391.15" r="0.72" fill="#1a1a1a"/><circle cx="305.56" cy="393.85" r="0.72" fill="#1a1a1a"/><circle cx="310.24" cy="393.85" r="0.72" fill="#1a1a1a"/>
<path d="M464.54 345.90V354.20M463.34 345.90h2.4M463.34 354.20h2.4M470.43 325.70V347.10M469.23 325.70h2.4M469.23 347.10h2.4M476.32 316.20V337.60M475.12 316.20h2.4M475.12 337.60h2.4M482.21 320.90V331.60M481.01 320.90h2.4M481.01 331.60h2.4M488.09 334.00V347.10M486.89 334.00h2.4M486.89 347.10h2.4M493.98 332.80V356.60M492.78 332.80h2.4M492.78 356.60h2.4M499.87 324.50V351.80M498.67 324.50h2.4M498.67 351.80h2.4M505.76 354.20V373.20M504.56 354.20h2.4M504.56 373.20h2.4M511.64 331.60V347.10M510.44 331.60h2.4M510.44 347.10h2.4M517.53 345.90V359.00M516.33 345.90h2.4M516.33 359.00h2.4M523.42 337.60V356.60M522.22 337.60h2.4M522.22 356.60h2.4M529.31 354.20V375.60M528.11 354.20h2.4M528.11 375.60h2.4M535.19 359.00V375.60M533.99 359.00h2.4M533.99 375.60h2.4M541.08 359.00V369.70M539.88 359.00h2.4M539.88 369.70h2.4M546.97 362.50V387.50M545.77 362.50h2.4M545.77 387.50h2.4M552.86 359.00V382.70M551.66 359.00h2.4M551.66 382.70h2.4M558.74 359.00V379.20M557.54 359.00h2.4M557.54 379.20h2.4M564.63 373.20V386.30M563.43 373.20h2.4M563.43 386.30h2.4M570.52 360.20V385.10M569.32 360.20h2.4M569.32 385.10h2.4M576.41 366.10V381.60M575.21 366.10h2.4M575.21 381.60h2.4M582.29 359.00V381.60M581.09 359.00h2.4M581.09 381.60h2.4M588.18 375.60V386.30M586.98 375.60h2.4M586.98 386.30h2.4M594.07 382.70V391.00M592.87 382.70h2.4M592.87 391.00h2.4M599.96 362.50V382.70M598.76 362.50h2.4M598.76 382.70h2.4" stroke="#111" stroke-width="0.9" fill="none"/>
<path d="M464.54 349.90L470.43 336.40L476.32 326.90L482.21 325.70L488.09 340.40L493.98 345.20L499.87 338.00L505.76 363.70L511.64 339.50L517.53 352.30L523.42 347.60L529.31 364.90L535.19 367.30L541.08 364.20L546.97 375.10L552.86 370.90L558.74 369.00L564.63 379.90L570.52 372.00L576.41 373.70L582.29 370.40L588.18 381.60L594.07 388.00L599.96 373.20" stroke="#111" stroke-width="0.9" fill="none"/>
<circle cx="464.54" cy="349.90" r="2.9" fill="#fff" stroke="#111" stroke-width="0.9"/>
<circle cx="470.43" cy="336.40" r="2.9" fill="#fff" stroke="#111" stroke-width="0.9"/>
<circle cx="476.32" cy="326.90" r="2.9" fill="#fff" stroke="#111" stroke-width="0.9"/>
<circle cx="482.21" cy="325.70" r="2.9" fill="#fff" stroke="#111" stroke-width="0.9"/>
<circle cx="488.09" cy="340.40" r="2.9" fill="#fff" stroke="#111" stroke-width="0.9"/>
<circle cx="493.98" cy="345.20" r="2.9" fill="#fff" stroke="#111" stroke-width="0.9"/>
<circle cx="499.87" cy="338.00" r="2.9" fill="#fff" stroke="#111" stroke-width="0.9"/>
<circle cx="505.76" cy="363.70" r="2.9" fill="#fff" stroke="#111" stroke-width="0.9"/>
<circle cx="511.64" cy="339.50" r="2.9" fill="#fff" stroke="#111" stroke-width="0.9"/>
<circle cx="517.53" cy="352.30" r="2.9" fill="#fff" stroke="#111" stroke-width="0.9"/>
<circle cx="523.42" cy="347.60" r="2.9" fill="#fff" stroke="#111" stroke-width="0.9"/>
<circle cx="529.31" cy="364.90" r="2.9" fill="#fff" stroke="#111" stroke-width="0.9"/>
<circle cx="535.19" cy="367.30" r="2.9" fill="#fff" stroke="#111" stroke-width="0.9"/>
<circle cx="541.08" cy="364.20" r="2.9" fill="#fff" stroke="#111" stroke-width="0.9"/>
<circle cx="546.97" cy="375.10" r="2.9" fill="#fff" stroke="#111" stroke-width="0.9"/>
<circle cx="552.86" cy="370.90" r="2.9" fill="#fff" stroke="#111" stroke-width="0.9"/>
<circle cx="558.74" cy="369.00" r="2.9" fill="#fff" stroke="#111" stroke-width="0.9"/>
<circle cx="564.63" cy="379.90" r="2.9" fill="#fff" stroke="#111" stroke-width="0.9"/>
<circle cx="570.52" cy="372.00" r="2.9" fill="#fff" stroke="#111" stroke-width="0.9"/>
<circle cx="576.41" cy="373.70" r="2.9" fill="#fff" stroke="#111" stroke-width="0.9"/>
<circle cx="582.29" cy="370.40" r="2.9" fill="#fff" stroke="#111" stroke-width="0.9"/>
<circle cx="588.18" cy="381.60" r="2.9" fill="#fff" stroke="#111" stroke-width="0.9"/>
<circle cx="594.07" cy="388.00" r="2.9" fill="#fff" stroke="#111" stroke-width="0.9"/>
<circle cx="599.96" cy="373.20" r="2.9" fill="#fff" stroke="#111" stroke-width="0.9"/>
<path d="M464.54 389.70V395.70M463.34 389.70h2.4M463.34 395.70h2.4M470.43 380.40V392.30M469.23 380.40h2.4M469.23 392.30h2.4M476.32 380.40V392.30M475.12 380.40h2.4M475.12 392.30h2.4M482.21 362.50V391.10M481.01 362.50h2.4M481.01 391.10h2.4M488.09 370.90V389.90M486.89 370.90h2.4M486.89 389.90h2.4M493.98 357.80V394.60M492.78 357.80h2.4M492.78 394.60h2.4M499.87 366.10V389.90M498.67 366.10h2.4M498.67 389.90h2.4M505.76 351.80V387.50M504.56 351.80h2.4M504.56 387.50h2.4M511.64 372.00V392.30M510.44 372.00h2.4M510.44 392.30h2.4M517.53 378.00V392.30M516.33 378.00h2.4M516.33 392.30h2.4M523.42 369.70V391.10M522.22 369.70h2.4M522.22 391.10h2.4M529.31 363.70V382.70M528.11 363.70h2.4M528.11 382.70h2.4M535.19 367.30V384.00M533.99 367.30h2.4M533.99 384.00h2.4M541.08 374.40V392.30M539.88 374.40h2.4M539.88 392.30h2.4M546.97 363.70V385.10M545.77 363.70h2.4M545.77 385.10h2.4M552.86 362.50V387.50M551.66 362.50h2.4M551.66 387.50h2.4M558.74 370.90V385.10M557.54 370.90h2.4M557.54 385.10h2.4M564.63 355.40V363.20M563.43 355.40h2.4M563.43 363.20h2.4M570.52 368.50V380.40M569.32 368.50h2.4M569.32 380.40h2.4M576.41 376.10V386.30M575.21 376.10h2.4M575.21 386.30h2.4M582.29 386.30V394.60M581.09 386.30h2.4M581.09 394.60h2.4M588.18 366.10V380.40M586.98 366.10h2.4M586.98 380.40h2.4M594.07 356.60V366.10M592.87 356.60h2.4M592.87 366.10h2.4M599.96 353.00V385.10M598.76 353.00h2.4M598.76 385.10h2.4" stroke="#111" stroke-width="0.9" fill="none"/>
<path d="M464.54 392.70L470.43 386.30L476.32 386.30L482.21 376.80L488.09 379.90L493.98 376.10L499.87 378.50L505.76 369.70L511.64 382.30L517.53 385.60L523.42 380.80L529.31 372.00L535.19 375.60L541.08 383.20L546.97 373.70L552.86 372.80L558.74 377.50L564.63 360.20L570.52 374.40L576.41 381.60L582.29 392.30L588.18 372.80L594.07 361.80L599.96 369.00" stroke="#111" stroke-width="0.9" fill="none"/>
<circle cx="464.54" cy="392.70" r="3.1" fill="#000"/>
<circle cx="470.43" cy="386.30" r="3.1" fill="#000"/>
<circle cx="476.32" cy="386.30" r="3.1" fill="#000"/>
<circle cx="482.21" cy="376.80" r="3.1" fill="#000"/>
<circle cx="488.09" cy="379.90" r="3.1" fill="#000"/>
<circle cx="493.98" cy="376.10" r="3.1" fill="#000"/>
<circle cx="499.87" cy="378.50" r="3.1" fill="#000"/>
<circle cx="505.76" cy="369.70" r="3.1" fill="#000"/>
<circle cx="511.64" cy="382.30" r="3.1" fill="#000"/>
<circle cx="517.53" cy="385.60" r="3.1" fill="#000"/>
<circle cx="523.42" cy="380.80" r="3.1" fill="#000"/>
<circle cx="529.31" cy="372.00" r="3.1" fill="#000"/>
<circle cx="535.19" cy="375.60" r="3.1" fill="#000"/>
<circle cx="541.08" cy="383.20" r="3.1" fill="#000"/>
<circle cx="546.97" cy="373.70" r="3.1" fill="#000"/>
<circle cx="552.86" cy="372.80" r="3.1" fill="#000"/>
<circle cx="558.74" cy="377.50" r="3.1" fill="#000"/>
<circle cx="564.63" cy="360.20" r="3.1" fill="#000"/>
<circle cx="570.52" cy="374.40" r="3.1" fill="#000"/>
<circle cx="576.41" cy="381.60" r="3.1" fill="#000"/>
<circle cx="582.29" cy="392.30" r="3.1" fill="#000"/>
<circle cx="588.18" cy="372.80" r="3.1" fill="#000"/>
<circle cx="594.07" cy="361.80" r="3.1" fill="#000"/>
<circle cx="599.96" cy="369.00" r="3.1" fill="#000"/>
<path d="M465.00 400.10L465.00 397.95M465.00 401.30L465.00 403.45M465.52 400.40L467.38 399.33M464.48 400.40L462.62 399.33M464.48 401.00L462.62 402.08M465.52 401.00L467.38 402.08" stroke="#1a1a1a" stroke-width="0.95" opacity="0.9" fill="none"/><circle cx="465.00" cy="398.00" r="0.72" fill="#1a1a1a"/><circle cx="465.00" cy="403.40" r="0.72" fill="#1a1a1a"/><circle cx="467.34" cy="399.35" r="0.72" fill="#1a1a1a"/><circle cx="462.66" cy="399.35" r="0.72" fill="#1a1a1a"/><circle cx="462.66" cy="402.05" r="0.72" fill="#1a1a1a"/><circle cx="467.34" cy="402.05" r="0.72" fill="#1a1a1a"/>
<path d="M472.40 400.10L472.40 397.95M472.40 401.30L472.40 403.45M472.92 400.40L474.78 399.33M471.88 400.40L470.02 399.33M471.88 401.00L470.02 402.08M472.92 401.00L474.78 402.08" stroke="#1a1a1a" stroke-width="0.95" opacity="0.9" fill="none"/><circle cx="472.40" cy="398.00" r="0.72" fill="#1a1a1a"/><circle cx="472.40" cy="403.40" r="0.72" fill="#1a1a1a"/><circle cx="474.74" cy="399.35" r="0.72" fill="#1a1a1a"/><circle cx="470.06" cy="399.35" r="0.72" fill="#1a1a1a"/><circle cx="470.06" cy="402.05" r="0.72" fill="#1a1a1a"/><circle cx="474.74" cy="402.05" r="0.72" fill="#1a1a1a"/>
<path d="M478.10 398.80L478.10 396.65M478.10 400.00L478.10 402.15M478.62 399.10L480.48 398.03M477.58 399.10L475.72 398.03M477.58 399.70L475.72 400.78M478.62 399.70L480.48 400.78" stroke="#1a1a1a" stroke-width="0.95" opacity="0.9" fill="none"/><circle cx="478.10" cy="396.70" r="0.72" fill="#1a1a1a"/><circle cx="478.10" cy="402.10" r="0.72" fill="#1a1a1a"/><circle cx="480.44" cy="398.05" r="0.72" fill="#1a1a1a"/><circle cx="475.76" cy="398.05" r="0.72" fill="#1a1a1a"/><circle cx="475.76" cy="400.75" r="0.72" fill="#1a1a1a"/><circle cx="480.44" cy="400.75" r="0.72" fill="#1a1a1a"/>
<path d="M483.10 397.60L483.10 395.45M483.10 398.80L483.10 400.95M483.62 397.90L485.48 396.83M482.58 397.90L480.72 396.83M482.58 398.50L480.72 399.58M483.62 398.50L485.48 399.58" stroke="#1a1a1a" stroke-width="0.95" opacity="0.9" fill="none"/><circle cx="483.10" cy="395.50" r="0.72" fill="#1a1a1a"/><circle cx="483.10" cy="400.90" r="0.72" fill="#1a1a1a"/><circle cx="485.44" cy="396.85" r="0.72" fill="#1a1a1a"/><circle cx="480.76" cy="396.85" r="0.72" fill="#1a1a1a"/><circle cx="480.76" cy="399.55" r="0.72" fill="#1a1a1a"/><circle cx="485.44" cy="399.55" r="0.72" fill="#1a1a1a"/>
<path d="M489.30 397.00L489.30 394.85M489.30 398.20L489.30 400.35M489.82 397.30L491.68 396.23M488.78 397.30L486.92 396.23M488.78 397.90L486.92 398.98M489.82 397.90L491.68 398.98" stroke="#1a1a1a" stroke-width="0.95" opacity="0.9" fill="none"/><circle cx="489.30" cy="394.90" r="0.72" fill="#1a1a1a"/><circle cx="489.30" cy="400.30" r="0.72" fill="#1a1a1a"/><circle cx="491.64" cy="396.25" r="0.72" fill="#1a1a1a"/><circle cx="486.96" cy="396.25" r="0.72" fill="#1a1a1a"/><circle cx="486.96" cy="398.95" r="0.72" fill="#1a1a1a"/><circle cx="491.64" cy="398.95" r="0.72" fill="#1a1a1a"/>
<path d="M499.20 399.50L499.20 397.35M499.20 400.70L499.20 402.85M499.72 399.80L501.58 398.73M498.68 399.80L496.82 398.73M498.68 400.40L496.82 401.48M499.72 400.40L501.58 401.48" stroke="#1a1a1a" stroke-width="0.95" opacity="0.9" fill="none"/><circle cx="499.20" cy="397.40" r="0.72" fill="#1a1a1a"/><circle cx="499.20" cy="402.80" r="0.72" fill="#1a1a1a"/><circle cx="501.54" cy="398.75" r="0.72" fill="#1a1a1a"/><circle cx="496.86" cy="398.75" r="0.72" fill="#1a1a1a"/><circle cx="496.86" cy="401.45" r="0.72" fill="#1a1a1a"/><circle cx="501.54" cy="401.45" r="0.72" fill="#1a1a1a"/>
<path d="M511.70 399.70L511.70 397.55M511.70 400.90L511.70 403.05M512.22 400.00L514.08 398.93M511.18 400.00L509.32 398.93M511.18 400.60L509.32 401.68M512.22 400.60L514.08 401.68" stroke="#1a1a1a" stroke-width="0.95" opacity="0.9" fill="none"/><circle cx="511.70" cy="397.60" r="0.72" fill="#1a1a1a"/><circle cx="511.70" cy="403.00" r="0.72" fill="#1a1a1a"/><circle cx="514.04" cy="398.95" r="0.72" fill="#1a1a1a"/><circle cx="509.36" cy="398.95" r="0.72" fill="#1a1a1a"/><circle cx="509.36" cy="401.65" r="0.72" fill="#1a1a1a"/><circle cx="514.04" cy="401.65" r="0.72" fill="#1a1a1a"/>
<path d="M518.00 399.20L518.00 397.05M518.00 400.40L518.00 402.55M518.52 399.50L520.38 398.43M517.48 399.50L515.62 398.43M517.48 400.10L515.62 401.18M518.52 400.10L520.38 401.18" stroke="#1a1a1a" stroke-width="0.95" opacity="0.9" fill="none"/><circle cx="518.00" cy="397.10" r="0.72" fill="#1a1a1a"/><circle cx="518.00" cy="402.50" r="0.72" fill="#1a1a1a"/><circle cx="520.34" cy="398.45" r="0.72" fill="#1a1a1a"/><circle cx="515.66" cy="398.45" r="0.72" fill="#1a1a1a"/><circle cx="515.66" cy="401.15" r="0.72" fill="#1a1a1a"/><circle cx="520.34" cy="401.15" r="0.72" fill="#1a1a1a"/>
<path d="M524.80 398.80L524.80 396.65M524.80 400.00L524.80 402.15M525.32 399.10L527.18 398.03M524.28 399.10L522.42 398.03M524.28 399.70L522.42 400.78M525.32 399.70L527.18 400.78" stroke="#1a1a1a" stroke-width="0.95" opacity="0.9" fill="none"/><circle cx="524.80" cy="396.70" r="0.72" fill="#1a1a1a"/><circle cx="524.80" cy="402.10" r="0.72" fill="#1a1a1a"/><circle cx="527.14" cy="398.05" r="0.72" fill="#1a1a1a"/><circle cx="522.46" cy="398.05" r="0.72" fill="#1a1a1a"/><circle cx="522.46" cy="400.75" r="0.72" fill="#1a1a1a"/><circle cx="527.14" cy="400.75" r="0.72" fill="#1a1a1a"/>
</svg></body></html>
